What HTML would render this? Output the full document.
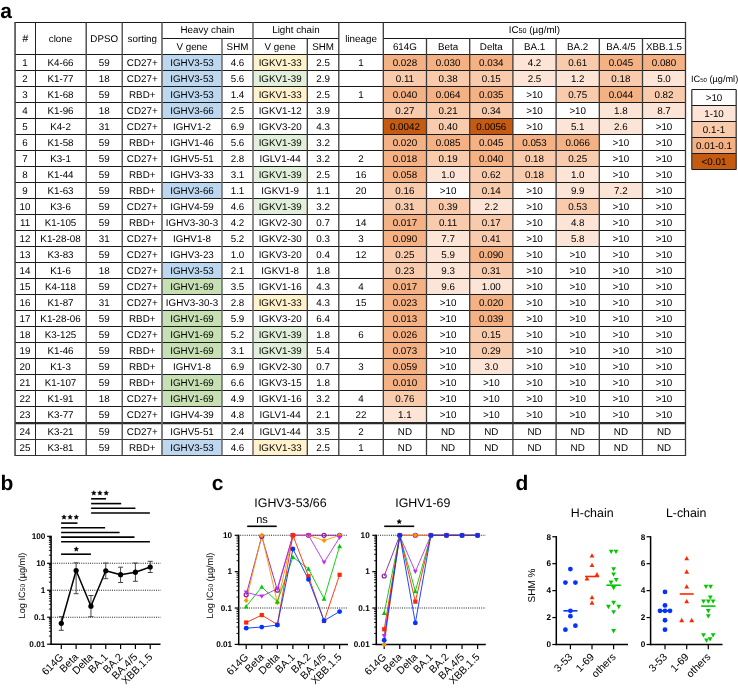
<!DOCTYPE html>
<html><head><meta charset="utf-8"><style>
html,body{margin:0;padding:0;background:#fff;}
svg{display:block;font-family:"Liberation Sans", sans-serif;text-rendering:geometricPrecision;will-change:transform;}
</style></head><body>
<svg width="738" height="689" viewBox="0 0 738 689">
<rect width="738" height="689" fill="#fff"/>
<rect x="162" y="54.5" width="60" height="16.0" fill="#BDD7EE"/>
<rect x="253" y="54.5" width="54.30000000000001" height="16.0" fill="#FFF2CC"/>
<rect x="383.3" y="54.5" width="43.19999999999999" height="16.0" fill="#F4B183"/>
<rect x="426.5" y="54.5" width="43.19999999999999" height="16.0" fill="#F4B183"/>
<rect x="469.7" y="54.5" width="43.19999999999999" height="16.0" fill="#F4B183"/>
<rect x="512.9" y="54.5" width="43.200000000000045" height="16.0" fill="#FCE4D6"/>
<rect x="556.1" y="54.5" width="43.19999999999993" height="16.0" fill="#F8CBAD"/>
<rect x="599.3" y="54.5" width="43.200000000000045" height="16.0" fill="#F4B183"/>
<rect x="642.5" y="54.5" width="43.0" height="16.0" fill="#F4B183"/>
<rect x="162" y="70.5" width="60" height="16.0" fill="#BDD7EE"/>
<rect x="253" y="70.5" width="54.30000000000001" height="16.0" fill="#E2EFDA"/>
<rect x="383.3" y="70.5" width="43.19999999999999" height="16.0" fill="#F8CBAD"/>
<rect x="426.5" y="70.5" width="43.19999999999999" height="16.0" fill="#F8CBAD"/>
<rect x="469.7" y="70.5" width="43.19999999999999" height="16.0" fill="#F8CBAD"/>
<rect x="512.9" y="70.5" width="43.200000000000045" height="16.0" fill="#FCE4D6"/>
<rect x="556.1" y="70.5" width="43.19999999999993" height="16.0" fill="#FCE4D6"/>
<rect x="599.3" y="70.5" width="43.200000000000045" height="16.0" fill="#F8CBAD"/>
<rect x="642.5" y="70.5" width="43.0" height="16.0" fill="#FCE4D6"/>
<rect x="162" y="86.5" width="60" height="16.0" fill="#BDD7EE"/>
<rect x="253" y="86.5" width="54.30000000000001" height="16.0" fill="#FFF2CC"/>
<rect x="383.3" y="86.5" width="43.19999999999999" height="16.0" fill="#F4B183"/>
<rect x="426.5" y="86.5" width="43.19999999999999" height="16.0" fill="#F4B183"/>
<rect x="469.7" y="86.5" width="43.19999999999999" height="16.0" fill="#F4B183"/>
<rect x="556.1" y="86.5" width="43.19999999999993" height="16.0" fill="#F8CBAD"/>
<rect x="599.3" y="86.5" width="43.200000000000045" height="16.0" fill="#F4B183"/>
<rect x="642.5" y="86.5" width="43.0" height="16.0" fill="#F8CBAD"/>
<rect x="162" y="102.5" width="60" height="16.0" fill="#BDD7EE"/>
<rect x="383.3" y="102.5" width="43.19999999999999" height="16.0" fill="#F8CBAD"/>
<rect x="426.5" y="102.5" width="43.19999999999999" height="16.0" fill="#F8CBAD"/>
<rect x="469.7" y="102.5" width="43.19999999999999" height="16.0" fill="#F8CBAD"/>
<rect x="599.3" y="102.5" width="43.200000000000045" height="16.0" fill="#FCE4D6"/>
<rect x="642.5" y="102.5" width="43.0" height="16.0" fill="#FCE4D6"/>
<rect x="383.3" y="118.5" width="43.19999999999999" height="16.0" fill="#C55A11"/>
<rect x="426.5" y="118.5" width="43.19999999999999" height="16.0" fill="#F8CBAD"/>
<rect x="469.7" y="118.5" width="43.19999999999999" height="16.0" fill="#C55A11"/>
<rect x="556.1" y="118.5" width="43.19999999999993" height="16.0" fill="#FCE4D6"/>
<rect x="599.3" y="118.5" width="43.200000000000045" height="16.0" fill="#FCE4D6"/>
<rect x="253" y="134.5" width="54.30000000000001" height="16.0" fill="#E2EFDA"/>
<rect x="383.3" y="134.5" width="43.19999999999999" height="16.0" fill="#F4B183"/>
<rect x="426.5" y="134.5" width="43.19999999999999" height="16.0" fill="#F4B183"/>
<rect x="469.7" y="134.5" width="43.19999999999999" height="16.0" fill="#F4B183"/>
<rect x="512.9" y="134.5" width="43.200000000000045" height="16.0" fill="#F4B183"/>
<rect x="556.1" y="134.5" width="43.19999999999993" height="16.0" fill="#F4B183"/>
<rect x="383.3" y="150.5" width="43.19999999999999" height="16.0" fill="#F4B183"/>
<rect x="426.5" y="150.5" width="43.19999999999999" height="16.0" fill="#F8CBAD"/>
<rect x="469.7" y="150.5" width="43.19999999999999" height="16.0" fill="#F4B183"/>
<rect x="512.9" y="150.5" width="43.200000000000045" height="16.0" fill="#F8CBAD"/>
<rect x="556.1" y="150.5" width="43.19999999999993" height="16.0" fill="#F8CBAD"/>
<rect x="253" y="166.5" width="54.30000000000001" height="16.0" fill="#E2EFDA"/>
<rect x="383.3" y="166.5" width="43.19999999999999" height="16.0" fill="#F4B183"/>
<rect x="426.5" y="166.5" width="43.19999999999999" height="16.0" fill="#FCE4D6"/>
<rect x="469.7" y="166.5" width="43.19999999999999" height="16.0" fill="#F8CBAD"/>
<rect x="512.9" y="166.5" width="43.200000000000045" height="16.0" fill="#F8CBAD"/>
<rect x="556.1" y="166.5" width="43.19999999999993" height="16.0" fill="#FCE4D6"/>
<rect x="162" y="182.5" width="60" height="16.0" fill="#BDD7EE"/>
<rect x="383.3" y="182.5" width="43.19999999999999" height="16.0" fill="#F8CBAD"/>
<rect x="469.7" y="182.5" width="43.19999999999999" height="16.0" fill="#F8CBAD"/>
<rect x="556.1" y="182.5" width="43.19999999999993" height="16.0" fill="#FCE4D6"/>
<rect x="599.3" y="182.5" width="43.200000000000045" height="16.0" fill="#FCE4D6"/>
<rect x="253" y="198.5" width="54.30000000000001" height="16.0" fill="#E2EFDA"/>
<rect x="383.3" y="198.5" width="43.19999999999999" height="16.0" fill="#F8CBAD"/>
<rect x="426.5" y="198.5" width="43.19999999999999" height="16.0" fill="#F8CBAD"/>
<rect x="469.7" y="198.5" width="43.19999999999999" height="16.0" fill="#FCE4D6"/>
<rect x="556.1" y="198.5" width="43.19999999999993" height="16.0" fill="#F8CBAD"/>
<rect x="383.3" y="214.5" width="43.19999999999999" height="16.0" fill="#F4B183"/>
<rect x="426.5" y="214.5" width="43.19999999999999" height="16.0" fill="#F8CBAD"/>
<rect x="469.7" y="214.5" width="43.19999999999999" height="16.0" fill="#F8CBAD"/>
<rect x="556.1" y="214.5" width="43.19999999999993" height="16.0" fill="#FCE4D6"/>
<rect x="383.3" y="230.5" width="43.19999999999999" height="16.0" fill="#F4B183"/>
<rect x="426.5" y="230.5" width="43.19999999999999" height="16.0" fill="#FCE4D6"/>
<rect x="469.7" y="230.5" width="43.19999999999999" height="16.0" fill="#F8CBAD"/>
<rect x="556.1" y="230.5" width="43.19999999999993" height="16.0" fill="#FCE4D6"/>
<rect x="383.3" y="246.5" width="43.19999999999999" height="16.0" fill="#F8CBAD"/>
<rect x="426.5" y="246.5" width="43.19999999999999" height="16.0" fill="#FCE4D6"/>
<rect x="469.7" y="246.5" width="43.19999999999999" height="16.0" fill="#F4B183"/>
<rect x="162" y="262.5" width="60" height="16.0" fill="#BDD7EE"/>
<rect x="383.3" y="262.5" width="43.19999999999999" height="16.0" fill="#F8CBAD"/>
<rect x="426.5" y="262.5" width="43.19999999999999" height="16.0" fill="#FCE4D6"/>
<rect x="469.7" y="262.5" width="43.19999999999999" height="16.0" fill="#F8CBAD"/>
<rect x="162" y="278.5" width="60" height="16.0" fill="#C6E0B4"/>
<rect x="383.3" y="278.5" width="43.19999999999999" height="16.0" fill="#F4B183"/>
<rect x="426.5" y="278.5" width="43.19999999999999" height="16.0" fill="#FCE4D6"/>
<rect x="469.7" y="278.5" width="43.19999999999999" height="16.0" fill="#FCE4D6"/>
<rect x="253" y="294.5" width="54.30000000000001" height="16.0" fill="#FFF2CC"/>
<rect x="383.3" y="294.5" width="43.19999999999999" height="16.0" fill="#F4B183"/>
<rect x="469.7" y="294.5" width="43.19999999999999" height="16.0" fill="#F4B183"/>
<rect x="162" y="310.5" width="60" height="16.0" fill="#C6E0B4"/>
<rect x="383.3" y="310.5" width="43.19999999999999" height="16.0" fill="#F4B183"/>
<rect x="469.7" y="310.5" width="43.19999999999999" height="16.0" fill="#F4B183"/>
<rect x="162" y="326.5" width="60" height="16.0" fill="#C6E0B4"/>
<rect x="253" y="326.5" width="54.30000000000001" height="16.0" fill="#E2EFDA"/>
<rect x="383.3" y="326.5" width="43.19999999999999" height="16.0" fill="#F4B183"/>
<rect x="469.7" y="326.5" width="43.19999999999999" height="16.0" fill="#F8CBAD"/>
<rect x="162" y="342.5" width="60" height="16.0" fill="#C6E0B4"/>
<rect x="253" y="342.5" width="54.30000000000001" height="16.0" fill="#E2EFDA"/>
<rect x="383.3" y="342.5" width="43.19999999999999" height="16.0" fill="#F4B183"/>
<rect x="469.7" y="342.5" width="43.19999999999999" height="16.0" fill="#F8CBAD"/>
<rect x="383.3" y="358.5" width="43.19999999999999" height="16.0" fill="#F4B183"/>
<rect x="469.7" y="358.5" width="43.19999999999999" height="16.0" fill="#FCE4D6"/>
<rect x="162" y="374.5" width="60" height="16.0" fill="#C6E0B4"/>
<rect x="383.3" y="374.5" width="43.19999999999999" height="16.0" fill="#F4B183"/>
<rect x="162" y="390.5" width="60" height="16.0" fill="#C6E0B4"/>
<rect x="383.3" y="390.5" width="43.19999999999999" height="16.0" fill="#F8CBAD"/>
<rect x="383.3" y="406.5" width="43.19999999999999" height="16.0" fill="#FCE4D6"/>
<rect x="162" y="439.5" width="60" height="16.0" fill="#BDD7EE"/>
<rect x="253" y="439.5" width="54.30000000000001" height="16.0" fill="#FFF2CC"/>
<text x="25.00" y="66.10" font-size="9.8" text-anchor="middle" font-weight="normal" fill="#000" >1</text>
<text x="60.50" y="66.10" font-size="9.8" text-anchor="middle" font-weight="normal" fill="#000" >K4-66</text>
<text x="104.25" y="66.10" font-size="9.8" text-anchor="middle" font-weight="normal" fill="#000" >59</text>
<text x="142.25" y="66.10" font-size="9.8" text-anchor="middle" font-weight="normal" fill="#000" >CD27+</text>
<text x="192.00" y="66.10" font-size="9.8" text-anchor="middle" font-weight="normal" fill="#000" >IGHV3-53</text>
<text x="237.50" y="66.10" font-size="9.8" text-anchor="middle" font-weight="normal" fill="#000" >4.6</text>
<text x="280.15" y="66.10" font-size="9.8" text-anchor="middle" font-weight="normal" fill="#000" >IGKV1-33</text>
<text x="323.05" y="66.10" font-size="9.8" text-anchor="middle" font-weight="normal" fill="#000" >2.5</text>
<text x="361.05" y="66.10" font-size="9.8" text-anchor="middle" font-weight="normal" fill="#000" >1</text>
<text x="404.90" y="66.10" font-size="9.8" text-anchor="middle" font-weight="normal" fill="#000" >0.028</text>
<text x="448.10" y="66.10" font-size="9.8" text-anchor="middle" font-weight="normal" fill="#000" >0.030</text>
<text x="491.30" y="66.10" font-size="9.8" text-anchor="middle" font-weight="normal" fill="#000" >0.034</text>
<text x="534.50" y="66.10" font-size="9.8" text-anchor="middle" font-weight="normal" fill="#000" >4.2</text>
<text x="577.70" y="66.10" font-size="9.8" text-anchor="middle" font-weight="normal" fill="#000" >0.61</text>
<text x="620.90" y="66.10" font-size="9.8" text-anchor="middle" font-weight="normal" fill="#000" >0.045</text>
<text x="664.00" y="66.10" font-size="9.8" text-anchor="middle" font-weight="normal" fill="#000" >0.080</text>
<text x="25.00" y="82.10" font-size="9.8" text-anchor="middle" font-weight="normal" fill="#000" >2</text>
<text x="60.50" y="82.10" font-size="9.8" text-anchor="middle" font-weight="normal" fill="#000" >K1-77</text>
<text x="104.25" y="82.10" font-size="9.8" text-anchor="middle" font-weight="normal" fill="#000" >18</text>
<text x="142.25" y="82.10" font-size="9.8" text-anchor="middle" font-weight="normal" fill="#000" >CD27+</text>
<text x="192.00" y="82.10" font-size="9.8" text-anchor="middle" font-weight="normal" fill="#000" >IGHV3-53</text>
<text x="237.50" y="82.10" font-size="9.8" text-anchor="middle" font-weight="normal" fill="#000" >5.6</text>
<text x="280.15" y="82.10" font-size="9.8" text-anchor="middle" font-weight="normal" fill="#000" >IGKV1-39</text>
<text x="323.05" y="82.10" font-size="9.8" text-anchor="middle" font-weight="normal" fill="#000" >2.9</text>
<text x="404.90" y="82.10" font-size="9.8" text-anchor="middle" font-weight="normal" fill="#000" >0.11</text>
<text x="448.10" y="82.10" font-size="9.8" text-anchor="middle" font-weight="normal" fill="#000" >0.38</text>
<text x="491.30" y="82.10" font-size="9.8" text-anchor="middle" font-weight="normal" fill="#000" >0.15</text>
<text x="534.50" y="82.10" font-size="9.8" text-anchor="middle" font-weight="normal" fill="#000" >2.5</text>
<text x="577.70" y="82.10" font-size="9.8" text-anchor="middle" font-weight="normal" fill="#000" >1.2</text>
<text x="620.90" y="82.10" font-size="9.8" text-anchor="middle" font-weight="normal" fill="#000" >0.18</text>
<text x="664.00" y="82.10" font-size="9.8" text-anchor="middle" font-weight="normal" fill="#000" >5.0</text>
<text x="25.00" y="98.10" font-size="9.8" text-anchor="middle" font-weight="normal" fill="#000" >3</text>
<text x="60.50" y="98.10" font-size="9.8" text-anchor="middle" font-weight="normal" fill="#000" >K1-68</text>
<text x="104.25" y="98.10" font-size="9.8" text-anchor="middle" font-weight="normal" fill="#000" >59</text>
<text x="142.25" y="98.10" font-size="9.8" text-anchor="middle" font-weight="normal" fill="#000" >RBD+</text>
<text x="192.00" y="98.10" font-size="9.8" text-anchor="middle" font-weight="normal" fill="#000" >IGHV3-53</text>
<text x="237.50" y="98.10" font-size="9.8" text-anchor="middle" font-weight="normal" fill="#000" >1.4</text>
<text x="280.15" y="98.10" font-size="9.8" text-anchor="middle" font-weight="normal" fill="#000" >IGKV1-33</text>
<text x="323.05" y="98.10" font-size="9.8" text-anchor="middle" font-weight="normal" fill="#000" >2.5</text>
<text x="361.05" y="98.10" font-size="9.8" text-anchor="middle" font-weight="normal" fill="#000" >1</text>
<text x="404.90" y="98.10" font-size="9.8" text-anchor="middle" font-weight="normal" fill="#000" >0.040</text>
<text x="448.10" y="98.10" font-size="9.8" text-anchor="middle" font-weight="normal" fill="#000" >0.064</text>
<text x="491.30" y="98.10" font-size="9.8" text-anchor="middle" font-weight="normal" fill="#000" >0.035</text>
<text x="534.50" y="98.10" font-size="9.8" text-anchor="middle" font-weight="normal" fill="#000" >&gt;10</text>
<text x="577.70" y="98.10" font-size="9.8" text-anchor="middle" font-weight="normal" fill="#000" >0.75</text>
<text x="620.90" y="98.10" font-size="9.8" text-anchor="middle" font-weight="normal" fill="#000" >0.044</text>
<text x="664.00" y="98.10" font-size="9.8" text-anchor="middle" font-weight="normal" fill="#000" >0.82</text>
<text x="25.00" y="114.10" font-size="9.8" text-anchor="middle" font-weight="normal" fill="#000" >4</text>
<text x="60.50" y="114.10" font-size="9.8" text-anchor="middle" font-weight="normal" fill="#000" >K1-96</text>
<text x="104.25" y="114.10" font-size="9.8" text-anchor="middle" font-weight="normal" fill="#000" >18</text>
<text x="142.25" y="114.10" font-size="9.8" text-anchor="middle" font-weight="normal" fill="#000" >CD27+</text>
<text x="192.00" y="114.10" font-size="9.8" text-anchor="middle" font-weight="normal" fill="#000" >IGHV3-66</text>
<text x="237.50" y="114.10" font-size="9.8" text-anchor="middle" font-weight="normal" fill="#000" >2.5</text>
<text x="280.15" y="114.10" font-size="9.8" text-anchor="middle" font-weight="normal" fill="#000" >IGKV1-12</text>
<text x="323.05" y="114.10" font-size="9.8" text-anchor="middle" font-weight="normal" fill="#000" >3.9</text>
<text x="404.90" y="114.10" font-size="9.8" text-anchor="middle" font-weight="normal" fill="#000" >0.27</text>
<text x="448.10" y="114.10" font-size="9.8" text-anchor="middle" font-weight="normal" fill="#000" >0.21</text>
<text x="491.30" y="114.10" font-size="9.8" text-anchor="middle" font-weight="normal" fill="#000" >0.34</text>
<text x="534.50" y="114.10" font-size="9.8" text-anchor="middle" font-weight="normal" fill="#000" >&gt;10</text>
<text x="577.70" y="114.10" font-size="9.8" text-anchor="middle" font-weight="normal" fill="#000" >&gt;10</text>
<text x="620.90" y="114.10" font-size="9.8" text-anchor="middle" font-weight="normal" fill="#000" >1.8</text>
<text x="664.00" y="114.10" font-size="9.8" text-anchor="middle" font-weight="normal" fill="#000" >8.7</text>
<text x="25.00" y="130.10" font-size="9.8" text-anchor="middle" font-weight="normal" fill="#000" >5</text>
<text x="60.50" y="130.10" font-size="9.8" text-anchor="middle" font-weight="normal" fill="#000" >K4-2</text>
<text x="104.25" y="130.10" font-size="9.8" text-anchor="middle" font-weight="normal" fill="#000" >31</text>
<text x="142.25" y="130.10" font-size="9.8" text-anchor="middle" font-weight="normal" fill="#000" >CD27+</text>
<text x="192.00" y="130.10" font-size="9.8" text-anchor="middle" font-weight="normal" fill="#000" >IGHV1-2</text>
<text x="237.50" y="130.10" font-size="9.8" text-anchor="middle" font-weight="normal" fill="#000" >6.9</text>
<text x="280.15" y="130.10" font-size="9.8" text-anchor="middle" font-weight="normal" fill="#000" >IGKV3-20</text>
<text x="323.05" y="130.10" font-size="9.8" text-anchor="middle" font-weight="normal" fill="#000" >4.3</text>
<text x="404.90" y="130.10" font-size="9.8" text-anchor="middle" font-weight="normal" fill="#000" >0.0042</text>
<text x="448.10" y="130.10" font-size="9.8" text-anchor="middle" font-weight="normal" fill="#000" >0.40</text>
<text x="491.30" y="130.10" font-size="9.8" text-anchor="middle" font-weight="normal" fill="#000" >0.0056</text>
<text x="534.50" y="130.10" font-size="9.8" text-anchor="middle" font-weight="normal" fill="#000" >&gt;10</text>
<text x="577.70" y="130.10" font-size="9.8" text-anchor="middle" font-weight="normal" fill="#000" >5.1</text>
<text x="620.90" y="130.10" font-size="9.8" text-anchor="middle" font-weight="normal" fill="#000" >2.6</text>
<text x="664.00" y="130.10" font-size="9.8" text-anchor="middle" font-weight="normal" fill="#000" >&gt;10</text>
<text x="25.00" y="146.10" font-size="9.8" text-anchor="middle" font-weight="normal" fill="#000" >6</text>
<text x="60.50" y="146.10" font-size="9.8" text-anchor="middle" font-weight="normal" fill="#000" >K1-58</text>
<text x="104.25" y="146.10" font-size="9.8" text-anchor="middle" font-weight="normal" fill="#000" >59</text>
<text x="142.25" y="146.10" font-size="9.8" text-anchor="middle" font-weight="normal" fill="#000" >RBD+</text>
<text x="192.00" y="146.10" font-size="9.8" text-anchor="middle" font-weight="normal" fill="#000" >IGHV1-46</text>
<text x="237.50" y="146.10" font-size="9.8" text-anchor="middle" font-weight="normal" fill="#000" >5.6</text>
<text x="280.15" y="146.10" font-size="9.8" text-anchor="middle" font-weight="normal" fill="#000" >IGKV1-39</text>
<text x="323.05" y="146.10" font-size="9.8" text-anchor="middle" font-weight="normal" fill="#000" >3.2</text>
<text x="404.90" y="146.10" font-size="9.8" text-anchor="middle" font-weight="normal" fill="#000" >0.020</text>
<text x="448.10" y="146.10" font-size="9.8" text-anchor="middle" font-weight="normal" fill="#000" >0.085</text>
<text x="491.30" y="146.10" font-size="9.8" text-anchor="middle" font-weight="normal" fill="#000" >0.045</text>
<text x="534.50" y="146.10" font-size="9.8" text-anchor="middle" font-weight="normal" fill="#000" >0.053</text>
<text x="577.70" y="146.10" font-size="9.8" text-anchor="middle" font-weight="normal" fill="#000" >0.066</text>
<text x="620.90" y="146.10" font-size="9.8" text-anchor="middle" font-weight="normal" fill="#000" >&gt;10</text>
<text x="664.00" y="146.10" font-size="9.8" text-anchor="middle" font-weight="normal" fill="#000" >&gt;10</text>
<text x="25.00" y="162.10" font-size="9.8" text-anchor="middle" font-weight="normal" fill="#000" >7</text>
<text x="60.50" y="162.10" font-size="9.8" text-anchor="middle" font-weight="normal" fill="#000" >K3-1</text>
<text x="104.25" y="162.10" font-size="9.8" text-anchor="middle" font-weight="normal" fill="#000" >59</text>
<text x="142.25" y="162.10" font-size="9.8" text-anchor="middle" font-weight="normal" fill="#000" >CD27+</text>
<text x="192.00" y="162.10" font-size="9.8" text-anchor="middle" font-weight="normal" fill="#000" >IGHV5-51</text>
<text x="237.50" y="162.10" font-size="9.8" text-anchor="middle" font-weight="normal" fill="#000" >2.8</text>
<text x="280.15" y="162.10" font-size="9.8" text-anchor="middle" font-weight="normal" fill="#000" >IGLV1-44</text>
<text x="323.05" y="162.10" font-size="9.8" text-anchor="middle" font-weight="normal" fill="#000" >3.2</text>
<text x="361.05" y="162.10" font-size="9.8" text-anchor="middle" font-weight="normal" fill="#000" >2</text>
<text x="404.90" y="162.10" font-size="9.8" text-anchor="middle" font-weight="normal" fill="#000" >0.018</text>
<text x="448.10" y="162.10" font-size="9.8" text-anchor="middle" font-weight="normal" fill="#000" >0.19</text>
<text x="491.30" y="162.10" font-size="9.8" text-anchor="middle" font-weight="normal" fill="#000" >0.040</text>
<text x="534.50" y="162.10" font-size="9.8" text-anchor="middle" font-weight="normal" fill="#000" >0.18</text>
<text x="577.70" y="162.10" font-size="9.8" text-anchor="middle" font-weight="normal" fill="#000" >0.25</text>
<text x="620.90" y="162.10" font-size="9.8" text-anchor="middle" font-weight="normal" fill="#000" >&gt;10</text>
<text x="664.00" y="162.10" font-size="9.8" text-anchor="middle" font-weight="normal" fill="#000" >&gt;10</text>
<text x="25.00" y="178.10" font-size="9.8" text-anchor="middle" font-weight="normal" fill="#000" >8</text>
<text x="60.50" y="178.10" font-size="9.8" text-anchor="middle" font-weight="normal" fill="#000" >K1-44</text>
<text x="104.25" y="178.10" font-size="9.8" text-anchor="middle" font-weight="normal" fill="#000" >59</text>
<text x="142.25" y="178.10" font-size="9.8" text-anchor="middle" font-weight="normal" fill="#000" >RBD+</text>
<text x="192.00" y="178.10" font-size="9.8" text-anchor="middle" font-weight="normal" fill="#000" >IGHV3-33</text>
<text x="237.50" y="178.10" font-size="9.8" text-anchor="middle" font-weight="normal" fill="#000" >3.1</text>
<text x="280.15" y="178.10" font-size="9.8" text-anchor="middle" font-weight="normal" fill="#000" >IGKV1-39</text>
<text x="323.05" y="178.10" font-size="9.8" text-anchor="middle" font-weight="normal" fill="#000" >2.5</text>
<text x="361.05" y="178.10" font-size="9.8" text-anchor="middle" font-weight="normal" fill="#000" >16</text>
<text x="404.90" y="178.10" font-size="9.8" text-anchor="middle" font-weight="normal" fill="#000" >0.058</text>
<text x="448.10" y="178.10" font-size="9.8" text-anchor="middle" font-weight="normal" fill="#000" >1.0</text>
<text x="491.30" y="178.10" font-size="9.8" text-anchor="middle" font-weight="normal" fill="#000" >0.62</text>
<text x="534.50" y="178.10" font-size="9.8" text-anchor="middle" font-weight="normal" fill="#000" >0.18</text>
<text x="577.70" y="178.10" font-size="9.8" text-anchor="middle" font-weight="normal" fill="#000" >1.0</text>
<text x="620.90" y="178.10" font-size="9.8" text-anchor="middle" font-weight="normal" fill="#000" >&gt;10</text>
<text x="664.00" y="178.10" font-size="9.8" text-anchor="middle" font-weight="normal" fill="#000" >&gt;10</text>
<text x="25.00" y="194.10" font-size="9.8" text-anchor="middle" font-weight="normal" fill="#000" >9</text>
<text x="60.50" y="194.10" font-size="9.8" text-anchor="middle" font-weight="normal" fill="#000" >K1-63</text>
<text x="104.25" y="194.10" font-size="9.8" text-anchor="middle" font-weight="normal" fill="#000" >59</text>
<text x="142.25" y="194.10" font-size="9.8" text-anchor="middle" font-weight="normal" fill="#000" >RBD+</text>
<text x="192.00" y="194.10" font-size="9.8" text-anchor="middle" font-weight="normal" fill="#000" >IGHV3-66</text>
<text x="237.50" y="194.10" font-size="9.8" text-anchor="middle" font-weight="normal" fill="#000" >1.1</text>
<text x="280.15" y="194.10" font-size="9.8" text-anchor="middle" font-weight="normal" fill="#000" >IGKV1-9</text>
<text x="323.05" y="194.10" font-size="9.8" text-anchor="middle" font-weight="normal" fill="#000" >1.1</text>
<text x="361.05" y="194.10" font-size="9.8" text-anchor="middle" font-weight="normal" fill="#000" >20</text>
<text x="404.90" y="194.10" font-size="9.8" text-anchor="middle" font-weight="normal" fill="#000" >0.16</text>
<text x="448.10" y="194.10" font-size="9.8" text-anchor="middle" font-weight="normal" fill="#000" >&gt;10</text>
<text x="491.30" y="194.10" font-size="9.8" text-anchor="middle" font-weight="normal" fill="#000" >0.14</text>
<text x="534.50" y="194.10" font-size="9.8" text-anchor="middle" font-weight="normal" fill="#000" >&gt;10</text>
<text x="577.70" y="194.10" font-size="9.8" text-anchor="middle" font-weight="normal" fill="#000" >9.9</text>
<text x="620.90" y="194.10" font-size="9.8" text-anchor="middle" font-weight="normal" fill="#000" >7.2</text>
<text x="664.00" y="194.10" font-size="9.8" text-anchor="middle" font-weight="normal" fill="#000" >&gt;10</text>
<text x="25.00" y="210.10" font-size="9.8" text-anchor="middle" font-weight="normal" fill="#000" >10</text>
<text x="60.50" y="210.10" font-size="9.8" text-anchor="middle" font-weight="normal" fill="#000" >K3-6</text>
<text x="104.25" y="210.10" font-size="9.8" text-anchor="middle" font-weight="normal" fill="#000" >59</text>
<text x="142.25" y="210.10" font-size="9.8" text-anchor="middle" font-weight="normal" fill="#000" >CD27+</text>
<text x="192.00" y="210.10" font-size="9.8" text-anchor="middle" font-weight="normal" fill="#000" >IGHV4-59</text>
<text x="237.50" y="210.10" font-size="9.8" text-anchor="middle" font-weight="normal" fill="#000" >4.6</text>
<text x="280.15" y="210.10" font-size="9.8" text-anchor="middle" font-weight="normal" fill="#000" >IGKV1-39</text>
<text x="323.05" y="210.10" font-size="9.8" text-anchor="middle" font-weight="normal" fill="#000" >3.2</text>
<text x="404.90" y="210.10" font-size="9.8" text-anchor="middle" font-weight="normal" fill="#000" >0.31</text>
<text x="448.10" y="210.10" font-size="9.8" text-anchor="middle" font-weight="normal" fill="#000" >0.39</text>
<text x="491.30" y="210.10" font-size="9.8" text-anchor="middle" font-weight="normal" fill="#000" >2.2</text>
<text x="534.50" y="210.10" font-size="9.8" text-anchor="middle" font-weight="normal" fill="#000" >&gt;10</text>
<text x="577.70" y="210.10" font-size="9.8" text-anchor="middle" font-weight="normal" fill="#000" >0.53</text>
<text x="620.90" y="210.10" font-size="9.8" text-anchor="middle" font-weight="normal" fill="#000" >&gt;10</text>
<text x="664.00" y="210.10" font-size="9.8" text-anchor="middle" font-weight="normal" fill="#000" >&gt;10</text>
<text x="25.00" y="226.10" font-size="9.8" text-anchor="middle" font-weight="normal" fill="#000" >11</text>
<text x="60.50" y="226.10" font-size="9.8" text-anchor="middle" font-weight="normal" fill="#000" >K1-105</text>
<text x="104.25" y="226.10" font-size="9.8" text-anchor="middle" font-weight="normal" fill="#000" >59</text>
<text x="142.25" y="226.10" font-size="9.8" text-anchor="middle" font-weight="normal" fill="#000" >RBD+</text>
<text x="192.00" y="226.10" font-size="9.8" text-anchor="middle" font-weight="normal" fill="#000" >IGHV3-30-3</text>
<text x="237.50" y="226.10" font-size="9.8" text-anchor="middle" font-weight="normal" fill="#000" >4.2</text>
<text x="280.15" y="226.10" font-size="9.8" text-anchor="middle" font-weight="normal" fill="#000" >IGKV2-30</text>
<text x="323.05" y="226.10" font-size="9.8" text-anchor="middle" font-weight="normal" fill="#000" >0.7</text>
<text x="361.05" y="226.10" font-size="9.8" text-anchor="middle" font-weight="normal" fill="#000" >14</text>
<text x="404.90" y="226.10" font-size="9.8" text-anchor="middle" font-weight="normal" fill="#000" >0.017</text>
<text x="448.10" y="226.10" font-size="9.8" text-anchor="middle" font-weight="normal" fill="#000" >0.11</text>
<text x="491.30" y="226.10" font-size="9.8" text-anchor="middle" font-weight="normal" fill="#000" >0.17</text>
<text x="534.50" y="226.10" font-size="9.8" text-anchor="middle" font-weight="normal" fill="#000" >&gt;10</text>
<text x="577.70" y="226.10" font-size="9.8" text-anchor="middle" font-weight="normal" fill="#000" >4.8</text>
<text x="620.90" y="226.10" font-size="9.8" text-anchor="middle" font-weight="normal" fill="#000" >&gt;10</text>
<text x="664.00" y="226.10" font-size="9.8" text-anchor="middle" font-weight="normal" fill="#000" >&gt;10</text>
<text x="25.00" y="242.10" font-size="9.8" text-anchor="middle" font-weight="normal" fill="#000" >12</text>
<text x="60.50" y="242.10" font-size="9.8" text-anchor="middle" font-weight="normal" fill="#000" >K1-28-08</text>
<text x="104.25" y="242.10" font-size="9.8" text-anchor="middle" font-weight="normal" fill="#000" >31</text>
<text x="142.25" y="242.10" font-size="9.8" text-anchor="middle" font-weight="normal" fill="#000" >CD27+</text>
<text x="192.00" y="242.10" font-size="9.8" text-anchor="middle" font-weight="normal" fill="#000" >IGHV1-8</text>
<text x="237.50" y="242.10" font-size="9.8" text-anchor="middle" font-weight="normal" fill="#000" >5.2</text>
<text x="280.15" y="242.10" font-size="9.8" text-anchor="middle" font-weight="normal" fill="#000" >IGKV2-30</text>
<text x="323.05" y="242.10" font-size="9.8" text-anchor="middle" font-weight="normal" fill="#000" >0.3</text>
<text x="361.05" y="242.10" font-size="9.8" text-anchor="middle" font-weight="normal" fill="#000" >3</text>
<text x="404.90" y="242.10" font-size="9.8" text-anchor="middle" font-weight="normal" fill="#000" >0.090</text>
<text x="448.10" y="242.10" font-size="9.8" text-anchor="middle" font-weight="normal" fill="#000" >7.7</text>
<text x="491.30" y="242.10" font-size="9.8" text-anchor="middle" font-weight="normal" fill="#000" >0.41</text>
<text x="534.50" y="242.10" font-size="9.8" text-anchor="middle" font-weight="normal" fill="#000" >&gt;10</text>
<text x="577.70" y="242.10" font-size="9.8" text-anchor="middle" font-weight="normal" fill="#000" >5.8</text>
<text x="620.90" y="242.10" font-size="9.8" text-anchor="middle" font-weight="normal" fill="#000" >&gt;10</text>
<text x="664.00" y="242.10" font-size="9.8" text-anchor="middle" font-weight="normal" fill="#000" >&gt;10</text>
<text x="25.00" y="258.10" font-size="9.8" text-anchor="middle" font-weight="normal" fill="#000" >13</text>
<text x="60.50" y="258.10" font-size="9.8" text-anchor="middle" font-weight="normal" fill="#000" >K3-83</text>
<text x="104.25" y="258.10" font-size="9.8" text-anchor="middle" font-weight="normal" fill="#000" >59</text>
<text x="142.25" y="258.10" font-size="9.8" text-anchor="middle" font-weight="normal" fill="#000" >CD27+</text>
<text x="192.00" y="258.10" font-size="9.8" text-anchor="middle" font-weight="normal" fill="#000" >IGHV3-23</text>
<text x="237.50" y="258.10" font-size="9.8" text-anchor="middle" font-weight="normal" fill="#000" >1.0</text>
<text x="280.15" y="258.10" font-size="9.8" text-anchor="middle" font-weight="normal" fill="#000" >IGKV3-20</text>
<text x="323.05" y="258.10" font-size="9.8" text-anchor="middle" font-weight="normal" fill="#000" >0.4</text>
<text x="361.05" y="258.10" font-size="9.8" text-anchor="middle" font-weight="normal" fill="#000" >12</text>
<text x="404.90" y="258.10" font-size="9.8" text-anchor="middle" font-weight="normal" fill="#000" >0.25</text>
<text x="448.10" y="258.10" font-size="9.8" text-anchor="middle" font-weight="normal" fill="#000" >5.9</text>
<text x="491.30" y="258.10" font-size="9.8" text-anchor="middle" font-weight="normal" fill="#000" >0.090</text>
<text x="534.50" y="258.10" font-size="9.8" text-anchor="middle" font-weight="normal" fill="#000" >&gt;10</text>
<text x="577.70" y="258.10" font-size="9.8" text-anchor="middle" font-weight="normal" fill="#000" >&gt;10</text>
<text x="620.90" y="258.10" font-size="9.8" text-anchor="middle" font-weight="normal" fill="#000" >&gt;10</text>
<text x="664.00" y="258.10" font-size="9.8" text-anchor="middle" font-weight="normal" fill="#000" >&gt;10</text>
<text x="25.00" y="274.10" font-size="9.8" text-anchor="middle" font-weight="normal" fill="#000" >14</text>
<text x="60.50" y="274.10" font-size="9.8" text-anchor="middle" font-weight="normal" fill="#000" >K1-6</text>
<text x="104.25" y="274.10" font-size="9.8" text-anchor="middle" font-weight="normal" fill="#000" >18</text>
<text x="142.25" y="274.10" font-size="9.8" text-anchor="middle" font-weight="normal" fill="#000" >CD27+</text>
<text x="192.00" y="274.10" font-size="9.8" text-anchor="middle" font-weight="normal" fill="#000" >IGHV3-53</text>
<text x="237.50" y="274.10" font-size="9.8" text-anchor="middle" font-weight="normal" fill="#000" >2.1</text>
<text x="280.15" y="274.10" font-size="9.8" text-anchor="middle" font-weight="normal" fill="#000" >IGKV1-8</text>
<text x="323.05" y="274.10" font-size="9.8" text-anchor="middle" font-weight="normal" fill="#000" >1.8</text>
<text x="404.90" y="274.10" font-size="9.8" text-anchor="middle" font-weight="normal" fill="#000" >0.23</text>
<text x="448.10" y="274.10" font-size="9.8" text-anchor="middle" font-weight="normal" fill="#000" >9.3</text>
<text x="491.30" y="274.10" font-size="9.8" text-anchor="middle" font-weight="normal" fill="#000" >0.31</text>
<text x="534.50" y="274.10" font-size="9.8" text-anchor="middle" font-weight="normal" fill="#000" >&gt;10</text>
<text x="577.70" y="274.10" font-size="9.8" text-anchor="middle" font-weight="normal" fill="#000" >&gt;10</text>
<text x="620.90" y="274.10" font-size="9.8" text-anchor="middle" font-weight="normal" fill="#000" >&gt;10</text>
<text x="664.00" y="274.10" font-size="9.8" text-anchor="middle" font-weight="normal" fill="#000" >&gt;10</text>
<text x="25.00" y="290.10" font-size="9.8" text-anchor="middle" font-weight="normal" fill="#000" >15</text>
<text x="60.50" y="290.10" font-size="9.8" text-anchor="middle" font-weight="normal" fill="#000" >K4-118</text>
<text x="104.25" y="290.10" font-size="9.8" text-anchor="middle" font-weight="normal" fill="#000" >59</text>
<text x="142.25" y="290.10" font-size="9.8" text-anchor="middle" font-weight="normal" fill="#000" >CD27+</text>
<text x="192.00" y="290.10" font-size="9.8" text-anchor="middle" font-weight="normal" fill="#000" >IGHV1-69</text>
<text x="237.50" y="290.10" font-size="9.8" text-anchor="middle" font-weight="normal" fill="#000" >3.5</text>
<text x="280.15" y="290.10" font-size="9.8" text-anchor="middle" font-weight="normal" fill="#000" >IGKV1-16</text>
<text x="323.05" y="290.10" font-size="9.8" text-anchor="middle" font-weight="normal" fill="#000" >4.3</text>
<text x="361.05" y="290.10" font-size="9.8" text-anchor="middle" font-weight="normal" fill="#000" >4</text>
<text x="404.90" y="290.10" font-size="9.8" text-anchor="middle" font-weight="normal" fill="#000" >0.017</text>
<text x="448.10" y="290.10" font-size="9.8" text-anchor="middle" font-weight="normal" fill="#000" >9.6</text>
<text x="491.30" y="290.10" font-size="9.8" text-anchor="middle" font-weight="normal" fill="#000" >1.00</text>
<text x="534.50" y="290.10" font-size="9.8" text-anchor="middle" font-weight="normal" fill="#000" >&gt;10</text>
<text x="577.70" y="290.10" font-size="9.8" text-anchor="middle" font-weight="normal" fill="#000" >&gt;10</text>
<text x="620.90" y="290.10" font-size="9.8" text-anchor="middle" font-weight="normal" fill="#000" >&gt;10</text>
<text x="664.00" y="290.10" font-size="9.8" text-anchor="middle" font-weight="normal" fill="#000" >&gt;10</text>
<text x="25.00" y="306.10" font-size="9.8" text-anchor="middle" font-weight="normal" fill="#000" >16</text>
<text x="60.50" y="306.10" font-size="9.8" text-anchor="middle" font-weight="normal" fill="#000" >K1-87</text>
<text x="104.25" y="306.10" font-size="9.8" text-anchor="middle" font-weight="normal" fill="#000" >31</text>
<text x="142.25" y="306.10" font-size="9.8" text-anchor="middle" font-weight="normal" fill="#000" >CD27+</text>
<text x="192.00" y="306.10" font-size="9.8" text-anchor="middle" font-weight="normal" fill="#000" >IGHV3-30-3</text>
<text x="237.50" y="306.10" font-size="9.8" text-anchor="middle" font-weight="normal" fill="#000" >2.8</text>
<text x="280.15" y="306.10" font-size="9.8" text-anchor="middle" font-weight="normal" fill="#000" >IGKV1-33</text>
<text x="323.05" y="306.10" font-size="9.8" text-anchor="middle" font-weight="normal" fill="#000" >4.3</text>
<text x="361.05" y="306.10" font-size="9.8" text-anchor="middle" font-weight="normal" fill="#000" >15</text>
<text x="404.90" y="306.10" font-size="9.8" text-anchor="middle" font-weight="normal" fill="#000" >0.023</text>
<text x="448.10" y="306.10" font-size="9.8" text-anchor="middle" font-weight="normal" fill="#000" >&gt;10</text>
<text x="491.30" y="306.10" font-size="9.8" text-anchor="middle" font-weight="normal" fill="#000" >0.020</text>
<text x="534.50" y="306.10" font-size="9.8" text-anchor="middle" font-weight="normal" fill="#000" >&gt;10</text>
<text x="577.70" y="306.10" font-size="9.8" text-anchor="middle" font-weight="normal" fill="#000" >&gt;10</text>
<text x="620.90" y="306.10" font-size="9.8" text-anchor="middle" font-weight="normal" fill="#000" >&gt;10</text>
<text x="664.00" y="306.10" font-size="9.8" text-anchor="middle" font-weight="normal" fill="#000" >&gt;10</text>
<text x="25.00" y="322.10" font-size="9.8" text-anchor="middle" font-weight="normal" fill="#000" >17</text>
<text x="60.50" y="322.10" font-size="9.8" text-anchor="middle" font-weight="normal" fill="#000" >K1-28-06</text>
<text x="104.25" y="322.10" font-size="9.8" text-anchor="middle" font-weight="normal" fill="#000" >59</text>
<text x="142.25" y="322.10" font-size="9.8" text-anchor="middle" font-weight="normal" fill="#000" >RBD+</text>
<text x="192.00" y="322.10" font-size="9.8" text-anchor="middle" font-weight="normal" fill="#000" >IGHV1-69</text>
<text x="237.50" y="322.10" font-size="9.8" text-anchor="middle" font-weight="normal" fill="#000" >5.9</text>
<text x="280.15" y="322.10" font-size="9.8" text-anchor="middle" font-weight="normal" fill="#000" >IGKV3-20</text>
<text x="323.05" y="322.10" font-size="9.8" text-anchor="middle" font-weight="normal" fill="#000" >6.4</text>
<text x="404.90" y="322.10" font-size="9.8" text-anchor="middle" font-weight="normal" fill="#000" >0.013</text>
<text x="448.10" y="322.10" font-size="9.8" text-anchor="middle" font-weight="normal" fill="#000" >&gt;10</text>
<text x="491.30" y="322.10" font-size="9.8" text-anchor="middle" font-weight="normal" fill="#000" >0.039</text>
<text x="534.50" y="322.10" font-size="9.8" text-anchor="middle" font-weight="normal" fill="#000" >&gt;10</text>
<text x="577.70" y="322.10" font-size="9.8" text-anchor="middle" font-weight="normal" fill="#000" >&gt;10</text>
<text x="620.90" y="322.10" font-size="9.8" text-anchor="middle" font-weight="normal" fill="#000" >&gt;10</text>
<text x="664.00" y="322.10" font-size="9.8" text-anchor="middle" font-weight="normal" fill="#000" >&gt;10</text>
<text x="25.00" y="338.10" font-size="9.8" text-anchor="middle" font-weight="normal" fill="#000" >18</text>
<text x="60.50" y="338.10" font-size="9.8" text-anchor="middle" font-weight="normal" fill="#000" >K3-125</text>
<text x="104.25" y="338.10" font-size="9.8" text-anchor="middle" font-weight="normal" fill="#000" >59</text>
<text x="142.25" y="338.10" font-size="9.8" text-anchor="middle" font-weight="normal" fill="#000" >CD27+</text>
<text x="192.00" y="338.10" font-size="9.8" text-anchor="middle" font-weight="normal" fill="#000" >IGHV1-69</text>
<text x="237.50" y="338.10" font-size="9.8" text-anchor="middle" font-weight="normal" fill="#000" >5.2</text>
<text x="280.15" y="338.10" font-size="9.8" text-anchor="middle" font-weight="normal" fill="#000" >IGKV1-39</text>
<text x="323.05" y="338.10" font-size="9.8" text-anchor="middle" font-weight="normal" fill="#000" >1.8</text>
<text x="361.05" y="338.10" font-size="9.8" text-anchor="middle" font-weight="normal" fill="#000" >6</text>
<text x="404.90" y="338.10" font-size="9.8" text-anchor="middle" font-weight="normal" fill="#000" >0.026</text>
<text x="448.10" y="338.10" font-size="9.8" text-anchor="middle" font-weight="normal" fill="#000" >&gt;10</text>
<text x="491.30" y="338.10" font-size="9.8" text-anchor="middle" font-weight="normal" fill="#000" >0.15</text>
<text x="534.50" y="338.10" font-size="9.8" text-anchor="middle" font-weight="normal" fill="#000" >&gt;10</text>
<text x="577.70" y="338.10" font-size="9.8" text-anchor="middle" font-weight="normal" fill="#000" >&gt;10</text>
<text x="620.90" y="338.10" font-size="9.8" text-anchor="middle" font-weight="normal" fill="#000" >&gt;10</text>
<text x="664.00" y="338.10" font-size="9.8" text-anchor="middle" font-weight="normal" fill="#000" >&gt;10</text>
<text x="25.00" y="354.10" font-size="9.8" text-anchor="middle" font-weight="normal" fill="#000" >19</text>
<text x="60.50" y="354.10" font-size="9.8" text-anchor="middle" font-weight="normal" fill="#000" >K1-46</text>
<text x="104.25" y="354.10" font-size="9.8" text-anchor="middle" font-weight="normal" fill="#000" >59</text>
<text x="142.25" y="354.10" font-size="9.8" text-anchor="middle" font-weight="normal" fill="#000" >RBD+</text>
<text x="192.00" y="354.10" font-size="9.8" text-anchor="middle" font-weight="normal" fill="#000" >IGHV1-69</text>
<text x="237.50" y="354.10" font-size="9.8" text-anchor="middle" font-weight="normal" fill="#000" >3.1</text>
<text x="280.15" y="354.10" font-size="9.8" text-anchor="middle" font-weight="normal" fill="#000" >IGKV1-39</text>
<text x="323.05" y="354.10" font-size="9.8" text-anchor="middle" font-weight="normal" fill="#000" >5.4</text>
<text x="404.90" y="354.10" font-size="9.8" text-anchor="middle" font-weight="normal" fill="#000" >0.073</text>
<text x="448.10" y="354.10" font-size="9.8" text-anchor="middle" font-weight="normal" fill="#000" >&gt;10</text>
<text x="491.30" y="354.10" font-size="9.8" text-anchor="middle" font-weight="normal" fill="#000" >0.29</text>
<text x="534.50" y="354.10" font-size="9.8" text-anchor="middle" font-weight="normal" fill="#000" >&gt;10</text>
<text x="577.70" y="354.10" font-size="9.8" text-anchor="middle" font-weight="normal" fill="#000" >&gt;10</text>
<text x="620.90" y="354.10" font-size="9.8" text-anchor="middle" font-weight="normal" fill="#000" >&gt;10</text>
<text x="664.00" y="354.10" font-size="9.8" text-anchor="middle" font-weight="normal" fill="#000" >&gt;10</text>
<text x="25.00" y="370.10" font-size="9.8" text-anchor="middle" font-weight="normal" fill="#000" >20</text>
<text x="60.50" y="370.10" font-size="9.8" text-anchor="middle" font-weight="normal" fill="#000" >K1-3</text>
<text x="104.25" y="370.10" font-size="9.8" text-anchor="middle" font-weight="normal" fill="#000" >59</text>
<text x="142.25" y="370.10" font-size="9.8" text-anchor="middle" font-weight="normal" fill="#000" >RBD+</text>
<text x="192.00" y="370.10" font-size="9.8" text-anchor="middle" font-weight="normal" fill="#000" >IGHV1-8</text>
<text x="237.50" y="370.10" font-size="9.8" text-anchor="middle" font-weight="normal" fill="#000" >6.9</text>
<text x="280.15" y="370.10" font-size="9.8" text-anchor="middle" font-weight="normal" fill="#000" >IGKV2-30</text>
<text x="323.05" y="370.10" font-size="9.8" text-anchor="middle" font-weight="normal" fill="#000" >0.7</text>
<text x="361.05" y="370.10" font-size="9.8" text-anchor="middle" font-weight="normal" fill="#000" >3</text>
<text x="404.90" y="370.10" font-size="9.8" text-anchor="middle" font-weight="normal" fill="#000" >0.059</text>
<text x="448.10" y="370.10" font-size="9.8" text-anchor="middle" font-weight="normal" fill="#000" >&gt;10</text>
<text x="491.30" y="370.10" font-size="9.8" text-anchor="middle" font-weight="normal" fill="#000" >3.0</text>
<text x="534.50" y="370.10" font-size="9.8" text-anchor="middle" font-weight="normal" fill="#000" >&gt;10</text>
<text x="577.70" y="370.10" font-size="9.8" text-anchor="middle" font-weight="normal" fill="#000" >&gt;10</text>
<text x="620.90" y="370.10" font-size="9.8" text-anchor="middle" font-weight="normal" fill="#000" >&gt;10</text>
<text x="664.00" y="370.10" font-size="9.8" text-anchor="middle" font-weight="normal" fill="#000" >&gt;10</text>
<text x="25.00" y="386.10" font-size="9.8" text-anchor="middle" font-weight="normal" fill="#000" >21</text>
<text x="60.50" y="386.10" font-size="9.8" text-anchor="middle" font-weight="normal" fill="#000" >K1-107</text>
<text x="104.25" y="386.10" font-size="9.8" text-anchor="middle" font-weight="normal" fill="#000" >59</text>
<text x="142.25" y="386.10" font-size="9.8" text-anchor="middle" font-weight="normal" fill="#000" >RBD+</text>
<text x="192.00" y="386.10" font-size="9.8" text-anchor="middle" font-weight="normal" fill="#000" >IGHV1-69</text>
<text x="237.50" y="386.10" font-size="9.8" text-anchor="middle" font-weight="normal" fill="#000" >6.6</text>
<text x="280.15" y="386.10" font-size="9.8" text-anchor="middle" font-weight="normal" fill="#000" >IGKV3-15</text>
<text x="323.05" y="386.10" font-size="9.8" text-anchor="middle" font-weight="normal" fill="#000" >1.8</text>
<text x="404.90" y="386.10" font-size="9.8" text-anchor="middle" font-weight="normal" fill="#000" >0.010</text>
<text x="448.10" y="386.10" font-size="9.8" text-anchor="middle" font-weight="normal" fill="#000" >&gt;10</text>
<text x="491.30" y="386.10" font-size="9.8" text-anchor="middle" font-weight="normal" fill="#000" >&gt;10</text>
<text x="534.50" y="386.10" font-size="9.8" text-anchor="middle" font-weight="normal" fill="#000" >&gt;10</text>
<text x="577.70" y="386.10" font-size="9.8" text-anchor="middle" font-weight="normal" fill="#000" >&gt;10</text>
<text x="620.90" y="386.10" font-size="9.8" text-anchor="middle" font-weight="normal" fill="#000" >&gt;10</text>
<text x="664.00" y="386.10" font-size="9.8" text-anchor="middle" font-weight="normal" fill="#000" >&gt;10</text>
<text x="25.00" y="402.10" font-size="9.8" text-anchor="middle" font-weight="normal" fill="#000" >22</text>
<text x="60.50" y="402.10" font-size="9.8" text-anchor="middle" font-weight="normal" fill="#000" >K1-91</text>
<text x="104.25" y="402.10" font-size="9.8" text-anchor="middle" font-weight="normal" fill="#000" >18</text>
<text x="142.25" y="402.10" font-size="9.8" text-anchor="middle" font-weight="normal" fill="#000" >CD27+</text>
<text x="192.00" y="402.10" font-size="9.8" text-anchor="middle" font-weight="normal" fill="#000" >IGHV1-69</text>
<text x="237.50" y="402.10" font-size="9.8" text-anchor="middle" font-weight="normal" fill="#000" >4.9</text>
<text x="280.15" y="402.10" font-size="9.8" text-anchor="middle" font-weight="normal" fill="#000" >IGKV1-16</text>
<text x="323.05" y="402.10" font-size="9.8" text-anchor="middle" font-weight="normal" fill="#000" >3.2</text>
<text x="361.05" y="402.10" font-size="9.8" text-anchor="middle" font-weight="normal" fill="#000" >4</text>
<text x="404.90" y="402.10" font-size="9.8" text-anchor="middle" font-weight="normal" fill="#000" >0.76</text>
<text x="448.10" y="402.10" font-size="9.8" text-anchor="middle" font-weight="normal" fill="#000" >&gt;10</text>
<text x="491.30" y="402.10" font-size="9.8" text-anchor="middle" font-weight="normal" fill="#000" >&gt;10</text>
<text x="534.50" y="402.10" font-size="9.8" text-anchor="middle" font-weight="normal" fill="#000" >&gt;10</text>
<text x="577.70" y="402.10" font-size="9.8" text-anchor="middle" font-weight="normal" fill="#000" >&gt;10</text>
<text x="620.90" y="402.10" font-size="9.8" text-anchor="middle" font-weight="normal" fill="#000" >&gt;10</text>
<text x="664.00" y="402.10" font-size="9.8" text-anchor="middle" font-weight="normal" fill="#000" >&gt;10</text>
<text x="25.00" y="418.10" font-size="9.8" text-anchor="middle" font-weight="normal" fill="#000" >23</text>
<text x="60.50" y="418.10" font-size="9.8" text-anchor="middle" font-weight="normal" fill="#000" >K3-77</text>
<text x="104.25" y="418.10" font-size="9.8" text-anchor="middle" font-weight="normal" fill="#000" >59</text>
<text x="142.25" y="418.10" font-size="9.8" text-anchor="middle" font-weight="normal" fill="#000" >CD27+</text>
<text x="192.00" y="418.10" font-size="9.8" text-anchor="middle" font-weight="normal" fill="#000" >IGHV4-39</text>
<text x="237.50" y="418.10" font-size="9.8" text-anchor="middle" font-weight="normal" fill="#000" >4.8</text>
<text x="280.15" y="418.10" font-size="9.8" text-anchor="middle" font-weight="normal" fill="#000" >IGLV1-44</text>
<text x="323.05" y="418.10" font-size="9.8" text-anchor="middle" font-weight="normal" fill="#000" >2.1</text>
<text x="361.05" y="418.10" font-size="9.8" text-anchor="middle" font-weight="normal" fill="#000" >22</text>
<text x="404.90" y="418.10" font-size="9.8" text-anchor="middle" font-weight="normal" fill="#000" >1.1</text>
<text x="448.10" y="418.10" font-size="9.8" text-anchor="middle" font-weight="normal" fill="#000" >&gt;10</text>
<text x="491.30" y="418.10" font-size="9.8" text-anchor="middle" font-weight="normal" fill="#000" >&gt;10</text>
<text x="534.50" y="418.10" font-size="9.8" text-anchor="middle" font-weight="normal" fill="#000" >&gt;10</text>
<text x="577.70" y="418.10" font-size="9.8" text-anchor="middle" font-weight="normal" fill="#000" >&gt;10</text>
<text x="620.90" y="418.10" font-size="9.8" text-anchor="middle" font-weight="normal" fill="#000" >&gt;10</text>
<text x="664.00" y="418.10" font-size="9.8" text-anchor="middle" font-weight="normal" fill="#000" >&gt;10</text>
<text x="25.00" y="435.10" font-size="9.8" text-anchor="middle" font-weight="normal" fill="#000" >24</text>
<text x="60.50" y="435.10" font-size="9.8" text-anchor="middle" font-weight="normal" fill="#000" >K3-21</text>
<text x="104.25" y="435.10" font-size="9.8" text-anchor="middle" font-weight="normal" fill="#000" >59</text>
<text x="142.25" y="435.10" font-size="9.8" text-anchor="middle" font-weight="normal" fill="#000" >CD27+</text>
<text x="192.00" y="435.10" font-size="9.8" text-anchor="middle" font-weight="normal" fill="#000" >IGHV5-51</text>
<text x="237.50" y="435.10" font-size="9.8" text-anchor="middle" font-weight="normal" fill="#000" >2.4</text>
<text x="280.15" y="435.10" font-size="9.8" text-anchor="middle" font-weight="normal" fill="#000" >IGLV1-44</text>
<text x="323.05" y="435.10" font-size="9.8" text-anchor="middle" font-weight="normal" fill="#000" >3.5</text>
<text x="361.05" y="435.10" font-size="9.8" text-anchor="middle" font-weight="normal" fill="#000" >2</text>
<text x="404.90" y="435.10" font-size="9.8" text-anchor="middle" font-weight="normal" fill="#000" >ND</text>
<text x="448.10" y="435.10" font-size="9.8" text-anchor="middle" font-weight="normal" fill="#000" >ND</text>
<text x="491.30" y="435.10" font-size="9.8" text-anchor="middle" font-weight="normal" fill="#000" >ND</text>
<text x="534.50" y="435.10" font-size="9.8" text-anchor="middle" font-weight="normal" fill="#000" >ND</text>
<text x="577.70" y="435.10" font-size="9.8" text-anchor="middle" font-weight="normal" fill="#000" >ND</text>
<text x="620.90" y="435.10" font-size="9.8" text-anchor="middle" font-weight="normal" fill="#000" >ND</text>
<text x="664.00" y="435.10" font-size="9.8" text-anchor="middle" font-weight="normal" fill="#000" >ND</text>
<text x="25.00" y="451.10" font-size="9.8" text-anchor="middle" font-weight="normal" fill="#000" >25</text>
<text x="60.50" y="451.10" font-size="9.8" text-anchor="middle" font-weight="normal" fill="#000" >K3-81</text>
<text x="104.25" y="451.10" font-size="9.8" text-anchor="middle" font-weight="normal" fill="#000" >59</text>
<text x="142.25" y="451.10" font-size="9.8" text-anchor="middle" font-weight="normal" fill="#000" >RBD+</text>
<text x="192.00" y="451.10" font-size="9.8" text-anchor="middle" font-weight="normal" fill="#000" >IGHV3-53</text>
<text x="237.50" y="451.10" font-size="9.8" text-anchor="middle" font-weight="normal" fill="#000" >4.6</text>
<text x="280.15" y="451.10" font-size="9.8" text-anchor="middle" font-weight="normal" fill="#000" >IGKV1-33</text>
<text x="323.05" y="451.10" font-size="9.8" text-anchor="middle" font-weight="normal" fill="#000" >2.5</text>
<text x="361.05" y="451.10" font-size="9.8" text-anchor="middle" font-weight="normal" fill="#000" >1</text>
<text x="404.90" y="451.10" font-size="9.8" text-anchor="middle" font-weight="normal" fill="#000" >ND</text>
<text x="448.10" y="451.10" font-size="9.8" text-anchor="middle" font-weight="normal" fill="#000" >ND</text>
<text x="491.30" y="451.10" font-size="9.8" text-anchor="middle" font-weight="normal" fill="#000" >ND</text>
<text x="534.50" y="451.10" font-size="9.8" text-anchor="middle" font-weight="normal" fill="#000" >ND</text>
<text x="577.70" y="451.10" font-size="9.8" text-anchor="middle" font-weight="normal" fill="#000" >ND</text>
<text x="620.90" y="451.10" font-size="9.8" text-anchor="middle" font-weight="normal" fill="#000" >ND</text>
<text x="664.00" y="451.10" font-size="9.8" text-anchor="middle" font-weight="normal" fill="#000" >ND</text>
<text x="60.50" y="41.80" font-size="9.8" text-anchor="middle" font-weight="normal" fill="#000" >clone</text>
<text x="104.25" y="41.80" font-size="9.8" text-anchor="middle" font-weight="normal" fill="#000" >DPSO</text>
<text x="142.25" y="41.80" font-size="9.8" text-anchor="middle" font-weight="normal" fill="#000" >sorting</text>
<text x="361.05" y="41.80" font-size="9.8" text-anchor="middle" font-weight="normal" fill="#000" >lineage</text>
<text x="25.20" y="41.9" font-size="10.6" font-style="italic" text-anchor="middle">#</text>
<text x="207.50" y="33.20" font-size="9.8" text-anchor="middle" font-weight="normal" fill="#000" >Heavy chain</text>
<text x="295.90" y="33.20" font-size="9.8" text-anchor="middle" font-weight="normal" fill="#000" >Light chain</text>
<text x="192.00" y="49.80" font-size="9.8" text-anchor="middle" font-weight="normal" fill="#000" >V gene</text>
<text x="237.50" y="49.80" font-size="9.8" text-anchor="middle" font-weight="normal" fill="#000" >SHM</text>
<text x="280.15" y="49.80" font-size="9.8" text-anchor="middle" font-weight="normal" fill="#000" >V gene</text>
<text x="323.05" y="49.80" font-size="9.8" text-anchor="middle" font-weight="normal" fill="#000" >SHM</text>
<text x="404.90" y="49.80" font-size="9.8" text-anchor="middle" font-weight="normal" fill="#000" >614G</text>
<text x="448.10" y="49.80" font-size="9.8" text-anchor="middle" font-weight="normal" fill="#000" >Beta</text>
<text x="491.30" y="49.80" font-size="9.8" text-anchor="middle" font-weight="normal" fill="#000" >Delta</text>
<text x="534.50" y="49.80" font-size="9.8" text-anchor="middle" font-weight="normal" fill="#000" >BA.1</text>
<text x="577.70" y="49.80" font-size="9.8" text-anchor="middle" font-weight="normal" fill="#000" >BA.2</text>
<text x="620.90" y="49.80" font-size="9.8" text-anchor="middle" font-weight="normal" fill="#000" >BA.4/5</text>
<text x="664.00" y="49.80" font-size="9.8" text-anchor="middle" font-weight="normal" fill="#000" >XBB.1.5</text>
<text x="534.40" y="33.2" font-size="9.8" text-anchor="middle" >IC<tspan font-size="7.2">50</tspan> (µg/ml)</text>
<line x1="14.4" y1="22.5" x2="686.1" y2="22.5" stroke="#1a1a1a" stroke-width="1"/>
<line x1="162" y1="38.5" x2="338.8" y2="38.5" stroke="#1a1a1a" stroke-width="1"/>
<line x1="383.3" y1="38.5" x2="685.5" y2="38.5" stroke="#1a1a1a" stroke-width="1"/>
<line x1="15" y1="54.5" x2="685.5" y2="54.5" stroke="#1a1a1a" stroke-width="1"/>
<line x1="15" y1="70.5" x2="685.5" y2="70.5" stroke="#1a1a1a" stroke-width="1"/>
<line x1="15" y1="86.5" x2="685.5" y2="86.5" stroke="#1a1a1a" stroke-width="1"/>
<line x1="15" y1="102.5" x2="685.5" y2="102.5" stroke="#1a1a1a" stroke-width="1"/>
<line x1="15" y1="118.5" x2="685.5" y2="118.5" stroke="#1a1a1a" stroke-width="1"/>
<line x1="15" y1="134.5" x2="685.5" y2="134.5" stroke="#1a1a1a" stroke-width="1"/>
<line x1="15" y1="150.5" x2="685.5" y2="150.5" stroke="#1a1a1a" stroke-width="1"/>
<line x1="15" y1="166.5" x2="685.5" y2="166.5" stroke="#1a1a1a" stroke-width="1"/>
<line x1="15" y1="182.5" x2="685.5" y2="182.5" stroke="#1a1a1a" stroke-width="1"/>
<line x1="15" y1="198.5" x2="685.5" y2="198.5" stroke="#1a1a1a" stroke-width="1"/>
<line x1="15" y1="214.5" x2="685.5" y2="214.5" stroke="#1a1a1a" stroke-width="1"/>
<line x1="15" y1="230.5" x2="685.5" y2="230.5" stroke="#1a1a1a" stroke-width="1"/>
<line x1="15" y1="246.5" x2="685.5" y2="246.5" stroke="#1a1a1a" stroke-width="1"/>
<line x1="15" y1="262.5" x2="685.5" y2="262.5" stroke="#1a1a1a" stroke-width="1"/>
<line x1="15" y1="278.5" x2="685.5" y2="278.5" stroke="#1a1a1a" stroke-width="1"/>
<line x1="15" y1="294.5" x2="685.5" y2="294.5" stroke="#1a1a1a" stroke-width="1"/>
<line x1="15" y1="310.5" x2="685.5" y2="310.5" stroke="#1a1a1a" stroke-width="1"/>
<line x1="15" y1="326.5" x2="685.5" y2="326.5" stroke="#1a1a1a" stroke-width="1"/>
<line x1="15" y1="342.5" x2="685.5" y2="342.5" stroke="#1a1a1a" stroke-width="1"/>
<line x1="15" y1="358.5" x2="685.5" y2="358.5" stroke="#1a1a1a" stroke-width="1"/>
<line x1="15" y1="374.5" x2="685.5" y2="374.5" stroke="#1a1a1a" stroke-width="1"/>
<line x1="15" y1="390.5" x2="685.5" y2="390.5" stroke="#1a1a1a" stroke-width="1"/>
<line x1="15" y1="406.5" x2="685.5" y2="406.5" stroke="#1a1a1a" stroke-width="1"/>
<line x1="15" y1="423.1" x2="685.5" y2="423.1" stroke="#2a2a2a" stroke-width="2.2"/>
<line x1="15" y1="439.5" x2="685.5" y2="439.5" stroke="#333" stroke-width="1.2"/>
<line x1="14.4" y1="455.5" x2="686.1" y2="455.5" stroke="#333" stroke-width="1.2"/>
<line x1="15.05" y1="22.5" x2="15.05" y2="455.5" stroke="#4a4a4a" stroke-width="1.6"/>
<line x1="35.5" y1="22.5" x2="35.5" y2="455.5" stroke="#222" stroke-width="1.0"/>
<line x1="86.2" y1="22.5" x2="86.2" y2="455.5" stroke="#444" stroke-width="1.4"/>
<line x1="122.2" y1="22.5" x2="122.2" y2="455.5" stroke="#444" stroke-width="1.3"/>
<line x1="162.0" y1="22.5" x2="162.0" y2="455.5" stroke="#6a6a6a" stroke-width="1.7"/>
<line x1="222.0" y1="38.5" x2="222.0" y2="455.5" stroke="#6a6a6a" stroke-width="1.5"/>
<line x1="253.0" y1="22.5" x2="253.0" y2="455.5" stroke="#6a6a6a" stroke-width="1.5"/>
<line x1="307.3" y1="38.5" x2="307.3" y2="455.5" stroke="#3a3a3a" stroke-width="1.3"/>
<line x1="338.8" y1="22.5" x2="338.8" y2="455.5" stroke="#3a3a3a" stroke-width="1.3"/>
<line x1="383.3" y1="22.5" x2="383.3" y2="455.5" stroke="#3a3a3a" stroke-width="1.3"/>
<line x1="426.5" y1="38.5" x2="426.5" y2="455.5" stroke="#3a3a3a" stroke-width="1.3"/>
<line x1="469.7" y1="38.5" x2="469.7" y2="455.5" stroke="#3a3a3a" stroke-width="1.3"/>
<line x1="512.9" y1="38.5" x2="512.9" y2="455.5" stroke="#3a3a3a" stroke-width="1.3"/>
<line x1="556.1" y1="38.5" x2="556.1" y2="455.5" stroke="#3a3a3a" stroke-width="1.3"/>
<line x1="599.3" y1="38.5" x2="599.3" y2="455.5" stroke="#3a3a3a" stroke-width="1.3"/>
<line x1="642.5" y1="38.5" x2="642.5" y2="455.5" stroke="#3a3a3a" stroke-width="1.3"/>
<line x1="685.5" y1="22.5" x2="685.5" y2="455.5" stroke="#3a3a3a" stroke-width="1.3"/>
<text x="691.00" y="82.20" font-size="9.8" text-anchor="start" font-weight="normal" fill="#000" ></text>
<text x="691" y="82.3" font-size="9.2" text-anchor="start">IC<tspan font-size="6">50</tspan> (µg/ml)</text>
<text x="714.00" y="101.10" font-size="9.8" text-anchor="middle" font-weight="normal" fill="#000" >&gt;10</text>
<rect x="691.8" y="105.5" width="44.40000000000009" height="16" fill="#FCE4D6"/>
<text x="714.00" y="117.10" font-size="9.8" text-anchor="middle" font-weight="normal" fill="#000" >1-10</text>
<rect x="691.8" y="121.5" width="44.40000000000009" height="16" fill="#F8CBAD"/>
<text x="714.00" y="133.10" font-size="9.8" text-anchor="middle" font-weight="normal" fill="#000" >0.1-1</text>
<rect x="691.8" y="137.5" width="44.40000000000009" height="16" fill="#F4B183"/>
<text x="714.00" y="149.10" font-size="9.8" text-anchor="middle" font-weight="normal" fill="#000" >0.01-0.1</text>
<rect x="691.8" y="153.5" width="44.40000000000009" height="16" fill="#C55A11"/>
<text x="714.00" y="165.10" font-size="9.8" text-anchor="middle" font-weight="normal" fill="#000" >&lt;0.01</text>
<line x1="691.8" y1="89.5" x2="736.2" y2="89.5" stroke="#1a1a1a" stroke-width="1"/>
<line x1="691.8" y1="105.5" x2="736.2" y2="105.5" stroke="#1a1a1a" stroke-width="1"/>
<line x1="691.8" y1="121.5" x2="736.2" y2="121.5" stroke="#1a1a1a" stroke-width="1"/>
<line x1="691.8" y1="137.5" x2="736.2" y2="137.5" stroke="#1a1a1a" stroke-width="1"/>
<line x1="691.8" y1="153.5" x2="736.2" y2="153.5" stroke="#1a1a1a" stroke-width="1"/>
<line x1="691.8" y1="169.5" x2="736.2" y2="169.5" stroke="#1a1a1a" stroke-width="1"/>
<line x1="691.8" y1="89.5" x2="691.8" y2="169.5" stroke="#3a3a3a" stroke-width="1.3"/>
<line x1="736.2" y1="89.5" x2="736.2" y2="169.5" stroke="#3a3a3a" stroke-width="1.3"/>
<text x="0.3" y="17.6" font-size="21" font-weight="bold">a</text>
<text x="0.5" y="490" font-size="21" font-weight="bold">b</text>
<text x="211.7" y="490" font-size="21" font-weight="bold">c</text>
<text x="515.5" y="490" font-size="21" font-weight="bold">d</text>
<line x1="52.60" y1="563.29" x2="160.80" y2="563.29" stroke="#222" stroke-width="1.1" stroke-dasharray="1 1.2"/>
<line x1="52.60" y1="590.26" x2="160.80" y2="590.26" stroke="#222" stroke-width="1.1" stroke-dasharray="1 1.2"/>
<line x1="52.60" y1="617.23" x2="160.80" y2="617.23" stroke="#222" stroke-width="1.1" stroke-dasharray="1 1.2"/>
<line x1="51.10" y1="535.72" x2="51.10" y2="644.90" stroke="#000" stroke-width="1.5" />
<line x1="50.40" y1="644.20" x2="160.50" y2="644.20" stroke="#000" stroke-width="1.5" />
<line x1="47.10" y1="644.20" x2="51.10" y2="644.20" stroke="#000" stroke-width="1.2" />
<line x1="47.10" y1="617.23" x2="51.10" y2="617.23" stroke="#000" stroke-width="1.2" />
<line x1="47.10" y1="590.26" x2="51.10" y2="590.26" stroke="#000" stroke-width="1.2" />
<line x1="47.10" y1="563.29" x2="51.10" y2="563.29" stroke="#000" stroke-width="1.2" />
<line x1="47.10" y1="536.32" x2="51.10" y2="536.32" stroke="#000" stroke-width="1.2" />
<line x1="48.90" y1="636.08" x2="51.10" y2="636.08" stroke="#000" stroke-width="0.9" />
<line x1="48.90" y1="631.33" x2="51.10" y2="631.33" stroke="#000" stroke-width="0.9" />
<line x1="48.90" y1="627.96" x2="51.10" y2="627.96" stroke="#000" stroke-width="0.9" />
<line x1="48.90" y1="625.35" x2="51.10" y2="625.35" stroke="#000" stroke-width="0.9" />
<line x1="48.90" y1="623.21" x2="51.10" y2="623.21" stroke="#000" stroke-width="0.9" />
<line x1="48.90" y1="621.41" x2="51.10" y2="621.41" stroke="#000" stroke-width="0.9" />
<line x1="48.90" y1="619.84" x2="51.10" y2="619.84" stroke="#000" stroke-width="0.9" />
<line x1="48.90" y1="618.46" x2="51.10" y2="618.46" stroke="#000" stroke-width="0.9" />
<line x1="48.90" y1="609.11" x2="51.10" y2="609.11" stroke="#000" stroke-width="0.9" />
<line x1="48.90" y1="604.36" x2="51.10" y2="604.36" stroke="#000" stroke-width="0.9" />
<line x1="48.90" y1="600.99" x2="51.10" y2="600.99" stroke="#000" stroke-width="0.9" />
<line x1="48.90" y1="598.38" x2="51.10" y2="598.38" stroke="#000" stroke-width="0.9" />
<line x1="48.90" y1="596.24" x2="51.10" y2="596.24" stroke="#000" stroke-width="0.9" />
<line x1="48.90" y1="594.44" x2="51.10" y2="594.44" stroke="#000" stroke-width="0.9" />
<line x1="48.90" y1="592.87" x2="51.10" y2="592.87" stroke="#000" stroke-width="0.9" />
<line x1="48.90" y1="591.49" x2="51.10" y2="591.49" stroke="#000" stroke-width="0.9" />
<line x1="48.90" y1="582.14" x2="51.10" y2="582.14" stroke="#000" stroke-width="0.9" />
<line x1="48.90" y1="577.39" x2="51.10" y2="577.39" stroke="#000" stroke-width="0.9" />
<line x1="48.90" y1="574.02" x2="51.10" y2="574.02" stroke="#000" stroke-width="0.9" />
<line x1="48.90" y1="571.41" x2="51.10" y2="571.41" stroke="#000" stroke-width="0.9" />
<line x1="48.90" y1="569.27" x2="51.10" y2="569.27" stroke="#000" stroke-width="0.9" />
<line x1="48.90" y1="567.47" x2="51.10" y2="567.47" stroke="#000" stroke-width="0.9" />
<line x1="48.90" y1="565.90" x2="51.10" y2="565.90" stroke="#000" stroke-width="0.9" />
<line x1="48.90" y1="564.52" x2="51.10" y2="564.52" stroke="#000" stroke-width="0.9" />
<line x1="48.90" y1="555.17" x2="51.10" y2="555.17" stroke="#000" stroke-width="0.9" />
<line x1="48.90" y1="550.42" x2="51.10" y2="550.42" stroke="#000" stroke-width="0.9" />
<line x1="48.90" y1="547.05" x2="51.10" y2="547.05" stroke="#000" stroke-width="0.9" />
<line x1="48.90" y1="544.44" x2="51.10" y2="544.44" stroke="#000" stroke-width="0.9" />
<line x1="48.90" y1="542.30" x2="51.10" y2="542.30" stroke="#000" stroke-width="0.9" />
<line x1="48.90" y1="540.50" x2="51.10" y2="540.50" stroke="#000" stroke-width="0.9" />
<line x1="48.90" y1="538.93" x2="51.10" y2="538.93" stroke="#000" stroke-width="0.9" />
<line x1="48.90" y1="537.55" x2="51.10" y2="537.55" stroke="#000" stroke-width="0.9" />
<line x1="61.30" y1="644.20" x2="61.30" y2="649.00" stroke="#000" stroke-width="1.2" />
<line x1="76.12" y1="644.20" x2="76.12" y2="649.00" stroke="#000" stroke-width="1.2" />
<line x1="90.94" y1="644.20" x2="90.94" y2="649.00" stroke="#000" stroke-width="1.2" />
<line x1="105.76" y1="644.20" x2="105.76" y2="649.00" stroke="#000" stroke-width="1.2" />
<line x1="120.58" y1="644.20" x2="120.58" y2="649.00" stroke="#000" stroke-width="1.2" />
<line x1="135.40" y1="644.20" x2="135.40" y2="649.00" stroke="#000" stroke-width="1.2" />
<line x1="150.22" y1="644.20" x2="150.22" y2="649.00" stroke="#000" stroke-width="1.2" />
<text x="45.30" y="539.12" font-size="8.2" text-anchor="end" font-weight="bold" fill="#000" >100</text>
<text x="45.30" y="566.09" font-size="8.2" text-anchor="end" font-weight="bold" fill="#000" >10</text>
<text x="45.30" y="593.06" font-size="8.2" text-anchor="end" font-weight="bold" fill="#000" >1</text>
<text x="45.30" y="620.03" font-size="8.2" text-anchor="end" font-weight="bold" fill="#000" >0.1</text>
<text x="45.30" y="647.00" font-size="8.2" text-anchor="end" font-weight="bold" fill="#000" >0.01</text>
<text transform="translate(21.70,585.50) rotate(-90)" font-size="9.2" text-anchor="middle" dy="3.31">Log IC<tspan font-size="6.62">50</tspan> (µg/ml)</text>
<text transform="translate(64.10,657.60) rotate(-45)" font-size="10.5" text-anchor="end">614G</text>
<text transform="translate(78.92,657.60) rotate(-45)" font-size="10.5" text-anchor="end">Beta</text>
<text transform="translate(93.74,657.60) rotate(-45)" font-size="10.5" text-anchor="end">Delta</text>
<text transform="translate(108.56,657.60) rotate(-45)" font-size="10.5" text-anchor="end">BA.1</text>
<text transform="translate(123.38,657.60) rotate(-45)" font-size="10.5" text-anchor="end">BA.2</text>
<text transform="translate(138.20,657.60) rotate(-45)" font-size="10.5" text-anchor="end">BA.4/5</text>
<text transform="translate(153.02,657.60) rotate(-45)" font-size="10.5" text-anchor="end">XBB.1.5</text>
<line x1="61.30" y1="616.70" x2="61.30" y2="630.30" stroke="#444" stroke-width="1.0" />
<line x1="58.80" y1="616.70" x2="63.80" y2="616.70" stroke="#444" stroke-width="1.0" />
<line x1="58.80" y1="630.30" x2="63.80" y2="630.30" stroke="#444" stroke-width="1.0" />
<line x1="76.12" y1="562.80" x2="76.12" y2="593.70" stroke="#444" stroke-width="1.0" />
<line x1="73.62" y1="562.80" x2="78.62" y2="562.80" stroke="#444" stroke-width="1.0" />
<line x1="73.62" y1="593.70" x2="78.62" y2="593.70" stroke="#444" stroke-width="1.0" />
<line x1="90.94" y1="595.50" x2="90.94" y2="616.70" stroke="#444" stroke-width="1.0" />
<line x1="88.44" y1="595.50" x2="93.44" y2="595.50" stroke="#444" stroke-width="1.0" />
<line x1="88.44" y1="616.70" x2="93.44" y2="616.70" stroke="#444" stroke-width="1.0" />
<line x1="105.76" y1="563.00" x2="105.76" y2="578.70" stroke="#444" stroke-width="1.0" />
<line x1="103.26" y1="563.00" x2="108.26" y2="563.00" stroke="#444" stroke-width="1.0" />
<line x1="103.26" y1="578.70" x2="108.26" y2="578.70" stroke="#444" stroke-width="1.0" />
<line x1="120.58" y1="567.20" x2="120.58" y2="582.50" stroke="#444" stroke-width="1.0" />
<line x1="118.08" y1="567.20" x2="123.08" y2="567.20" stroke="#444" stroke-width="1.0" />
<line x1="118.08" y1="582.50" x2="123.08" y2="582.50" stroke="#444" stroke-width="1.0" />
<line x1="135.40" y1="563.00" x2="135.40" y2="581.30" stroke="#444" stroke-width="1.0" />
<line x1="132.90" y1="563.00" x2="137.90" y2="563.00" stroke="#444" stroke-width="1.0" />
<line x1="132.90" y1="581.30" x2="137.90" y2="581.30" stroke="#444" stroke-width="1.0" />
<line x1="150.22" y1="561.30" x2="150.22" y2="572.50" stroke="#444" stroke-width="1.0" />
<line x1="147.72" y1="561.30" x2="152.72" y2="561.30" stroke="#444" stroke-width="1.0" />
<line x1="147.72" y1="572.50" x2="152.72" y2="572.50" stroke="#444" stroke-width="1.0" />
<polyline points="61.30,623.30 76.12,570.50 90.94,606.20 105.76,570.80 120.58,574.70 135.40,572.20 150.22,567.00" fill="none" stroke="#000" stroke-width="1.5" stroke-linejoin="round"/>
<circle cx="61.30" cy="623.30" r="2.6" fill="#000"/>
<circle cx="76.12" cy="570.50" r="2.6" fill="#000"/>
<circle cx="90.94" cy="606.20" r="2.6" fill="#000"/>
<circle cx="105.76" cy="570.80" r="2.6" fill="#000"/>
<circle cx="120.58" cy="574.70" r="2.6" fill="#000"/>
<circle cx="135.40" cy="572.20" r="2.6" fill="#000"/>
<circle cx="150.22" cy="567.00" r="2.6" fill="#000"/>
<line x1="61.10" y1="523.10" x2="77.50" y2="523.10" stroke="#000" stroke-width="1.6" />
<line x1="61.10" y1="527.70" x2="105.10" y2="527.70" stroke="#000" stroke-width="1.6" />
<line x1="61.10" y1="532.50" x2="119.60" y2="532.50" stroke="#000" stroke-width="1.6" />
<line x1="61.10" y1="537.10" x2="134.50" y2="537.10" stroke="#000" stroke-width="1.6" />
<line x1="61.10" y1="541.80" x2="149.90" y2="541.80" stroke="#000" stroke-width="1.6" />
<line x1="91.10" y1="498.80" x2="106.00" y2="498.80" stroke="#000" stroke-width="1.6" />
<line x1="91.10" y1="503.60" x2="121.20" y2="503.60" stroke="#000" stroke-width="1.6" />
<line x1="91.10" y1="508.30" x2="135.40" y2="508.30" stroke="#000" stroke-width="1.6" />
<line x1="91.10" y1="513.00" x2="149.90" y2="513.00" stroke="#000" stroke-width="1.6" />
<line x1="61.10" y1="554.20" x2="90.90" y2="554.20" stroke="#000" stroke-width="1.6" />
<polygon points="64.00,514.80 64.62,516.35 66.28,516.46 65.00,517.52 65.41,519.14 64.00,518.25 62.59,519.14 63.00,517.52 61.72,516.46 63.38,516.35" fill="#000" stroke="#000" stroke-width="0.5" stroke-linejoin="round"/>
<polygon points="70.10,514.80 70.72,516.35 72.38,516.46 71.10,517.52 71.51,519.14 70.10,518.25 68.69,519.14 69.10,517.52 67.82,516.46 69.48,516.35" fill="#000" stroke="#000" stroke-width="0.5" stroke-linejoin="round"/>
<polygon points="76.30,514.80 76.92,516.35 78.58,516.46 77.30,517.52 77.71,519.14 76.30,518.25 74.89,519.14 75.30,517.52 74.02,516.46 75.68,516.35" fill="#000" stroke="#000" stroke-width="0.5" stroke-linejoin="round"/>
<polygon points="93.80,490.70 94.42,492.25 96.08,492.36 94.80,493.42 95.21,495.04 93.80,494.15 92.39,495.04 92.80,493.42 91.52,492.36 93.18,492.25" fill="#000" stroke="#000" stroke-width="0.5" stroke-linejoin="round"/>
<polygon points="99.90,490.70 100.52,492.25 102.18,492.36 100.90,493.42 101.31,495.04 99.90,494.15 98.49,495.04 98.90,493.42 97.62,492.36 99.28,492.25" fill="#000" stroke="#000" stroke-width="0.5" stroke-linejoin="round"/>
<polygon points="106.20,490.70 106.82,492.25 108.48,492.36 107.20,493.42 107.61,495.04 106.20,494.15 104.79,495.04 105.20,493.42 103.92,492.36 105.58,492.25" fill="#000" stroke="#000" stroke-width="0.5" stroke-linejoin="round"/>
<polygon points="76.30,546.80 76.92,548.35 78.58,548.46 77.30,549.52 77.71,551.14 76.30,550.25 74.89,551.14 75.30,549.52 74.02,548.46 75.68,548.35" fill="#000" stroke="#000" stroke-width="0.5" stroke-linejoin="round"/>
<line x1="240.20" y1="535.29" x2="348.00" y2="535.29" stroke="#222" stroke-width="1.1" stroke-dasharray="1 1.2"/>
<line x1="240.20" y1="608.03" x2="348.00" y2="608.03" stroke="#222" stroke-width="1.1" stroke-dasharray="1 1.2"/>
<line x1="238.70" y1="534.69" x2="238.70" y2="645.10" stroke="#000" stroke-width="1.5" />
<line x1="238.00" y1="644.40" x2="348.00" y2="644.40" stroke="#000" stroke-width="1.5" />
<line x1="234.70" y1="644.40" x2="238.70" y2="644.40" stroke="#000" stroke-width="1.2" />
<line x1="234.70" y1="608.03" x2="238.70" y2="608.03" stroke="#000" stroke-width="1.2" />
<line x1="234.70" y1="571.66" x2="238.70" y2="571.66" stroke="#000" stroke-width="1.2" />
<line x1="234.70" y1="535.29" x2="238.70" y2="535.29" stroke="#000" stroke-width="1.2" />
<line x1="236.50" y1="633.45" x2="238.70" y2="633.45" stroke="#000" stroke-width="0.9" />
<line x1="236.50" y1="627.05" x2="238.70" y2="627.05" stroke="#000" stroke-width="0.9" />
<line x1="236.50" y1="622.50" x2="238.70" y2="622.50" stroke="#000" stroke-width="0.9" />
<line x1="236.50" y1="618.98" x2="238.70" y2="618.98" stroke="#000" stroke-width="0.9" />
<line x1="236.50" y1="616.10" x2="238.70" y2="616.10" stroke="#000" stroke-width="0.9" />
<line x1="236.50" y1="613.66" x2="238.70" y2="613.66" stroke="#000" stroke-width="0.9" />
<line x1="236.50" y1="611.55" x2="238.70" y2="611.55" stroke="#000" stroke-width="0.9" />
<line x1="236.50" y1="609.69" x2="238.70" y2="609.69" stroke="#000" stroke-width="0.9" />
<line x1="236.50" y1="597.08" x2="238.70" y2="597.08" stroke="#000" stroke-width="0.9" />
<line x1="236.50" y1="590.68" x2="238.70" y2="590.68" stroke="#000" stroke-width="0.9" />
<line x1="236.50" y1="586.13" x2="238.70" y2="586.13" stroke="#000" stroke-width="0.9" />
<line x1="236.50" y1="582.61" x2="238.70" y2="582.61" stroke="#000" stroke-width="0.9" />
<line x1="236.50" y1="579.73" x2="238.70" y2="579.73" stroke="#000" stroke-width="0.9" />
<line x1="236.50" y1="577.29" x2="238.70" y2="577.29" stroke="#000" stroke-width="0.9" />
<line x1="236.50" y1="575.18" x2="238.70" y2="575.18" stroke="#000" stroke-width="0.9" />
<line x1="236.50" y1="573.32" x2="238.70" y2="573.32" stroke="#000" stroke-width="0.9" />
<line x1="236.50" y1="560.71" x2="238.70" y2="560.71" stroke="#000" stroke-width="0.9" />
<line x1="236.50" y1="554.31" x2="238.70" y2="554.31" stroke="#000" stroke-width="0.9" />
<line x1="236.50" y1="549.76" x2="238.70" y2="549.76" stroke="#000" stroke-width="0.9" />
<line x1="236.50" y1="546.24" x2="238.70" y2="546.24" stroke="#000" stroke-width="0.9" />
<line x1="236.50" y1="543.36" x2="238.70" y2="543.36" stroke="#000" stroke-width="0.9" />
<line x1="236.50" y1="540.92" x2="238.70" y2="540.92" stroke="#000" stroke-width="0.9" />
<line x1="236.50" y1="538.81" x2="238.70" y2="538.81" stroke="#000" stroke-width="0.9" />
<line x1="236.50" y1="536.95" x2="238.70" y2="536.95" stroke="#000" stroke-width="0.9" />
<line x1="246.20" y1="644.40" x2="246.20" y2="648.90" stroke="#000" stroke-width="1.2" />
<line x1="261.77" y1="644.40" x2="261.77" y2="648.90" stroke="#000" stroke-width="1.2" />
<line x1="277.34" y1="644.40" x2="277.34" y2="648.90" stroke="#000" stroke-width="1.2" />
<line x1="292.91" y1="644.40" x2="292.91" y2="648.90" stroke="#000" stroke-width="1.2" />
<line x1="308.48" y1="644.40" x2="308.48" y2="648.90" stroke="#000" stroke-width="1.2" />
<line x1="324.05" y1="644.40" x2="324.05" y2="648.90" stroke="#000" stroke-width="1.2" />
<line x1="339.62" y1="644.40" x2="339.62" y2="648.90" stroke="#000" stroke-width="1.2" />
<text x="232.10" y="538.09" font-size="8.2" text-anchor="end" font-weight="bold" fill="#000" >10</text>
<text x="232.10" y="574.46" font-size="8.2" text-anchor="end" font-weight="bold" fill="#000" >1</text>
<text x="232.10" y="610.83" font-size="8.2" text-anchor="end" font-weight="bold" fill="#000" >0.1</text>
<text x="232.10" y="647.20" font-size="8.2" text-anchor="end" font-weight="bold" fill="#000" >0.01</text>
<text transform="translate(210.00,585.50) rotate(-90)" font-size="9.2" text-anchor="middle" dy="3.31">Log IC<tspan font-size="6.62">50</tspan> (µg/ml)</text>
<text transform="translate(249.00,657.60) rotate(-45)" font-size="10.5" text-anchor="end">614G</text>
<text transform="translate(264.57,657.60) rotate(-45)" font-size="10.5" text-anchor="end">Beta</text>
<text transform="translate(280.14,657.60) rotate(-45)" font-size="10.5" text-anchor="end">Delta</text>
<text transform="translate(295.71,657.60) rotate(-45)" font-size="10.5" text-anchor="end">BA.1</text>
<text transform="translate(311.28,657.60) rotate(-45)" font-size="10.5" text-anchor="end">BA.2</text>
<text transform="translate(326.85,657.60) rotate(-45)" font-size="10.5" text-anchor="end">BA.4/5</text>
<text transform="translate(342.42,657.60) rotate(-45)" font-size="10.5" text-anchor="end">XBB.1.5</text>
<text x="290.50" y="506.60" font-size="12.4" text-anchor="middle" font-weight="normal" fill="#000" >IGHV3-53/66</text>
<line x1="247.20" y1="526.30" x2="276.70" y2="526.30" stroke="#000" stroke-width="1.6" />
<text x="261.95" y="523.20" font-size="11" text-anchor="middle" font-weight="normal" fill="#000" >ns</text>
<polyline points="246.20,594.87 261.77,536.44 277.34,590.16 292.91,535.29 308.48,535.29 324.05,535.29 339.62,535.29" fill="none" stroke="#8E1E9E" stroke-width="0.9" stroke-linejoin="round"/>
<polyline points="246.20,600.61 261.77,535.29 277.34,602.72 292.91,535.29 308.48,535.45 324.05,540.48 339.62,535.29" fill="none" stroke="#FF9300" stroke-width="0.9" stroke-linejoin="round"/>
<polyline points="246.20,592.34 261.77,596.31 277.34,588.70 292.91,535.29 308.48,535.29 324.05,562.38 339.62,537.49" fill="none" stroke="#B530F0" stroke-width="0.9" stroke-linejoin="round"/>
<polyline points="246.20,606.52 261.77,586.94 277.34,601.63 292.91,557.19 308.48,568.78 324.05,598.75 339.62,546.24" fill="none" stroke="#00C800" stroke-width="0.9" stroke-linejoin="round"/>
<polyline points="246.20,622.50 261.77,615.08 277.34,624.61 292.91,535.29 308.48,576.20 324.05,621.00 339.62,574.79" fill="none" stroke="#FF2600" stroke-width="0.9" stroke-linejoin="round"/>
<polyline points="246.20,628.14 261.77,627.05 277.34,625.07 292.91,548.99 308.48,579.47 324.05,620.64 339.62,611.55" fill="none" stroke="#0433FF" stroke-width="0.9" stroke-linejoin="round"/>
<circle cx="246.20" cy="594.87" r="2.00" fill="none" stroke="#8E1E9E" stroke-width="1.2"/>
<circle cx="261.77" cy="536.44" r="2.00" fill="none" stroke="#8E1E9E" stroke-width="1.2"/>
<circle cx="277.34" cy="590.16" r="2.00" fill="none" stroke="#8E1E9E" stroke-width="1.2"/>
<circle cx="292.91" cy="535.29" r="2.00" fill="none" stroke="#8E1E9E" stroke-width="1.2"/>
<circle cx="308.48" cy="535.29" r="2.00" fill="none" stroke="#8E1E9E" stroke-width="1.2"/>
<circle cx="324.05" cy="535.29" r="2.00" fill="none" stroke="#8E1E9E" stroke-width="1.2"/>
<circle cx="339.62" cy="535.29" r="2.00" fill="none" stroke="#8E1E9E" stroke-width="1.2"/>
<polygon points="246.20,598.11 248.70,600.61 246.20,603.11 243.70,600.61" fill="#FF9300"/>
<polygon points="261.77,532.79 264.27,535.29 261.77,537.79 259.27,535.29" fill="#FF9300"/>
<polygon points="277.34,600.22 279.84,602.72 277.34,605.22 274.84,602.72" fill="#FF9300"/>
<polygon points="292.91,532.79 295.41,535.29 292.91,537.79 290.41,535.29" fill="#FF9300"/>
<polygon points="308.48,532.95 310.98,535.45 308.48,537.95 305.98,535.45" fill="#FF9300"/>
<polygon points="324.05,537.98 326.55,540.48 324.05,542.98 321.55,540.48" fill="#FF9300"/>
<polygon points="339.62,532.79 342.12,535.29 339.62,537.79 337.12,535.29" fill="#FF9300"/>
<polygon points="246.20,594.74 248.60,590.42 243.80,590.42" fill="#B530F0"/>
<polygon points="261.77,598.71 264.17,594.39 259.37,594.39" fill="#B530F0"/>
<polygon points="277.34,591.10 279.74,586.78 274.94,586.78" fill="#B530F0"/>
<polygon points="292.91,537.69 295.31,533.37 290.51,533.37" fill="#B530F0"/>
<polygon points="308.48,537.69 310.88,533.37 306.08,533.37" fill="#B530F0"/>
<polygon points="324.05,564.78 326.45,560.46 321.65,560.46" fill="#B530F0"/>
<polygon points="339.62,539.89 342.02,535.57 337.22,535.57" fill="#B530F0"/>
<polygon points="246.20,604.12 248.60,608.44 243.80,608.44" fill="#00C800"/>
<polygon points="261.77,584.54 264.17,588.86 259.37,588.86" fill="#00C800"/>
<polygon points="277.34,599.23 279.74,603.55 274.94,603.55" fill="#00C800"/>
<polygon points="292.91,554.79 295.31,559.11 290.51,559.11" fill="#00C800"/>
<polygon points="308.48,566.38 310.88,570.70 306.08,570.70" fill="#00C800"/>
<polygon points="324.05,596.35 326.45,600.67 321.65,600.67" fill="#00C800"/>
<polygon points="339.62,543.84 342.02,548.16 337.22,548.16" fill="#00C800"/>
<rect x="244.10" y="620.40" width="4.20" height="4.20" fill="#FF2600"/>
<rect x="259.67" y="612.98" width="4.20" height="4.20" fill="#FF2600"/>
<rect x="275.24" y="622.51" width="4.20" height="4.20" fill="#FF2600"/>
<rect x="290.81" y="533.19" width="4.20" height="4.20" fill="#FF2600"/>
<rect x="306.38" y="574.10" width="4.20" height="4.20" fill="#FF2600"/>
<rect x="321.95" y="618.90" width="4.20" height="4.20" fill="#FF2600"/>
<rect x="337.52" y="572.69" width="4.20" height="4.20" fill="#FF2600"/>
<circle cx="246.20" cy="628.14" r="2.40" fill="#0433FF"/>
<circle cx="261.77" cy="627.05" r="2.40" fill="#0433FF"/>
<circle cx="277.34" cy="625.07" r="2.40" fill="#0433FF"/>
<circle cx="292.91" cy="548.99" r="2.40" fill="#0433FF"/>
<circle cx="308.48" cy="579.47" r="2.40" fill="#0433FF"/>
<circle cx="324.05" cy="620.64" r="2.40" fill="#0433FF"/>
<circle cx="339.62" cy="611.55" r="2.40" fill="#0433FF"/>
<line x1="377.80" y1="535.29" x2="485.80" y2="535.29" stroke="#222" stroke-width="1.1" stroke-dasharray="1 1.2"/>
<line x1="377.80" y1="608.03" x2="485.80" y2="608.03" stroke="#222" stroke-width="1.1" stroke-dasharray="1 1.2"/>
<line x1="376.30" y1="534.69" x2="376.30" y2="645.10" stroke="#000" stroke-width="1.5" />
<line x1="375.60" y1="644.40" x2="485.80" y2="644.40" stroke="#000" stroke-width="1.5" />
<line x1="372.30" y1="644.40" x2="376.30" y2="644.40" stroke="#000" stroke-width="1.2" />
<line x1="372.30" y1="608.03" x2="376.30" y2="608.03" stroke="#000" stroke-width="1.2" />
<line x1="372.30" y1="571.66" x2="376.30" y2="571.66" stroke="#000" stroke-width="1.2" />
<line x1="372.30" y1="535.29" x2="376.30" y2="535.29" stroke="#000" stroke-width="1.2" />
<line x1="374.10" y1="633.45" x2="376.30" y2="633.45" stroke="#000" stroke-width="0.9" />
<line x1="374.10" y1="627.05" x2="376.30" y2="627.05" stroke="#000" stroke-width="0.9" />
<line x1="374.10" y1="622.50" x2="376.30" y2="622.50" stroke="#000" stroke-width="0.9" />
<line x1="374.10" y1="618.98" x2="376.30" y2="618.98" stroke="#000" stroke-width="0.9" />
<line x1="374.10" y1="616.10" x2="376.30" y2="616.10" stroke="#000" stroke-width="0.9" />
<line x1="374.10" y1="613.66" x2="376.30" y2="613.66" stroke="#000" stroke-width="0.9" />
<line x1="374.10" y1="611.55" x2="376.30" y2="611.55" stroke="#000" stroke-width="0.9" />
<line x1="374.10" y1="609.69" x2="376.30" y2="609.69" stroke="#000" stroke-width="0.9" />
<line x1="374.10" y1="597.08" x2="376.30" y2="597.08" stroke="#000" stroke-width="0.9" />
<line x1="374.10" y1="590.68" x2="376.30" y2="590.68" stroke="#000" stroke-width="0.9" />
<line x1="374.10" y1="586.13" x2="376.30" y2="586.13" stroke="#000" stroke-width="0.9" />
<line x1="374.10" y1="582.61" x2="376.30" y2="582.61" stroke="#000" stroke-width="0.9" />
<line x1="374.10" y1="579.73" x2="376.30" y2="579.73" stroke="#000" stroke-width="0.9" />
<line x1="374.10" y1="577.29" x2="376.30" y2="577.29" stroke="#000" stroke-width="0.9" />
<line x1="374.10" y1="575.18" x2="376.30" y2="575.18" stroke="#000" stroke-width="0.9" />
<line x1="374.10" y1="573.32" x2="376.30" y2="573.32" stroke="#000" stroke-width="0.9" />
<line x1="374.10" y1="560.71" x2="376.30" y2="560.71" stroke="#000" stroke-width="0.9" />
<line x1="374.10" y1="554.31" x2="376.30" y2="554.31" stroke="#000" stroke-width="0.9" />
<line x1="374.10" y1="549.76" x2="376.30" y2="549.76" stroke="#000" stroke-width="0.9" />
<line x1="374.10" y1="546.24" x2="376.30" y2="546.24" stroke="#000" stroke-width="0.9" />
<line x1="374.10" y1="543.36" x2="376.30" y2="543.36" stroke="#000" stroke-width="0.9" />
<line x1="374.10" y1="540.92" x2="376.30" y2="540.92" stroke="#000" stroke-width="0.9" />
<line x1="374.10" y1="538.81" x2="376.30" y2="538.81" stroke="#000" stroke-width="0.9" />
<line x1="374.10" y1="536.95" x2="376.30" y2="536.95" stroke="#000" stroke-width="0.9" />
<line x1="384.20" y1="644.40" x2="384.20" y2="648.90" stroke="#000" stroke-width="1.2" />
<line x1="399.77" y1="644.40" x2="399.77" y2="648.90" stroke="#000" stroke-width="1.2" />
<line x1="415.34" y1="644.40" x2="415.34" y2="648.90" stroke="#000" stroke-width="1.2" />
<line x1="430.91" y1="644.40" x2="430.91" y2="648.90" stroke="#000" stroke-width="1.2" />
<line x1="446.48" y1="644.40" x2="446.48" y2="648.90" stroke="#000" stroke-width="1.2" />
<line x1="462.05" y1="644.40" x2="462.05" y2="648.90" stroke="#000" stroke-width="1.2" />
<line x1="477.62" y1="644.40" x2="477.62" y2="648.90" stroke="#000" stroke-width="1.2" />
<text x="369.70" y="538.09" font-size="8.2" text-anchor="end" font-weight="bold" fill="#000" >10</text>
<text x="369.70" y="574.46" font-size="8.2" text-anchor="end" font-weight="bold" fill="#000" >1</text>
<text x="369.70" y="610.83" font-size="8.2" text-anchor="end" font-weight="bold" fill="#000" >0.1</text>
<text x="369.70" y="647.20" font-size="8.2" text-anchor="end" font-weight="bold" fill="#000" >0.01</text>
<text transform="translate(387.00,657.60) rotate(-45)" font-size="10.5" text-anchor="end">614G</text>
<text transform="translate(402.57,657.60) rotate(-45)" font-size="10.5" text-anchor="end">Beta</text>
<text transform="translate(418.14,657.60) rotate(-45)" font-size="10.5" text-anchor="end">Delta</text>
<text transform="translate(433.71,657.60) rotate(-45)" font-size="10.5" text-anchor="end">BA.1</text>
<text transform="translate(449.28,657.60) rotate(-45)" font-size="10.5" text-anchor="end">BA.2</text>
<text transform="translate(464.85,657.60) rotate(-45)" font-size="10.5" text-anchor="end">BA.4/5</text>
<text transform="translate(480.42,657.60) rotate(-45)" font-size="10.5" text-anchor="end">XBB.1.5</text>
<text x="422.80" y="506.60" font-size="12.4" text-anchor="middle" font-weight="normal" fill="#000" >IGHV1-69</text>
<line x1="384.20" y1="526.30" x2="414.20" y2="526.30" stroke="#000" stroke-width="1.6" />
<polygon points="399.20,519.30 399.82,520.85 401.48,520.96 400.20,522.02 400.61,523.64 399.20,522.75 397.79,523.64 398.20,522.02 396.92,520.96 398.58,520.85" fill="#000" stroke="#000" stroke-width="0.5" stroke-linejoin="round"/>
<polyline points="384.20,575.99 399.77,535.29 415.34,535.29 430.91,535.29 446.48,535.29 462.05,535.29 477.62,535.29" fill="none" stroke="#8E1E9E" stroke-width="0.9" stroke-linejoin="round"/>
<polyline points="384.20,644.40 399.77,535.29 415.34,535.29 430.91,535.29 446.48,535.29 462.05,535.29 477.62,535.29" fill="none" stroke="#FF9300" stroke-width="0.9" stroke-linejoin="round"/>
<polyline points="384.20,636.02 399.77,535.93 415.34,571.66 430.91,535.29 446.48,535.29 462.05,535.29 477.62,535.29" fill="none" stroke="#B530F0" stroke-width="0.9" stroke-linejoin="round"/>
<polyline points="384.20,613.00 399.77,535.29 415.34,591.21 430.91,535.29 446.48,535.29 462.05,535.29 477.62,535.29" fill="none" stroke="#00C800" stroke-width="0.9" stroke-linejoin="round"/>
<polyline points="384.20,629.31 399.77,535.29 415.34,601.63 430.91,535.29 446.48,535.29 462.05,535.29 477.62,535.29" fill="none" stroke="#FF2600" stroke-width="0.9" stroke-linejoin="round"/>
<polyline points="384.20,640.26 399.77,535.29 415.34,622.90 430.91,535.29 446.48,535.29 462.05,535.29 477.62,535.29" fill="none" stroke="#0433FF" stroke-width="0.9" stroke-linejoin="round"/>
<circle cx="384.20" cy="575.99" r="2.00" fill="none" stroke="#8E1E9E" stroke-width="1.2"/>
<circle cx="399.77" cy="535.29" r="2.00" fill="none" stroke="#8E1E9E" stroke-width="1.2"/>
<circle cx="415.34" cy="535.29" r="2.00" fill="none" stroke="#8E1E9E" stroke-width="1.2"/>
<circle cx="430.91" cy="535.29" r="2.00" fill="none" stroke="#8E1E9E" stroke-width="1.2"/>
<circle cx="446.48" cy="535.29" r="2.00" fill="none" stroke="#8E1E9E" stroke-width="1.2"/>
<circle cx="462.05" cy="535.29" r="2.00" fill="none" stroke="#8E1E9E" stroke-width="1.2"/>
<circle cx="477.62" cy="535.29" r="2.00" fill="none" stroke="#8E1E9E" stroke-width="1.2"/>
<polygon points="384.20,641.90 386.70,644.40 384.20,646.90 381.70,644.40" fill="#FF9300"/>
<polygon points="399.77,532.79 402.27,535.29 399.77,537.79 397.27,535.29" fill="#FF9300"/>
<polygon points="415.34,532.79 417.84,535.29 415.34,537.79 412.84,535.29" fill="#FF9300"/>
<polygon points="430.91,532.79 433.41,535.29 430.91,537.79 428.41,535.29" fill="#FF9300"/>
<polygon points="446.48,532.79 448.98,535.29 446.48,537.79 443.98,535.29" fill="#FF9300"/>
<polygon points="462.05,532.79 464.55,535.29 462.05,537.79 459.55,535.29" fill="#FF9300"/>
<polygon points="477.62,532.79 480.12,535.29 477.62,537.79 475.12,535.29" fill="#FF9300"/>
<polygon points="384.20,638.42 386.60,634.10 381.80,634.10" fill="#B530F0"/>
<polygon points="399.77,538.33 402.17,534.01 397.37,534.01" fill="#B530F0"/>
<polygon points="415.34,574.06 417.74,569.74 412.94,569.74" fill="#B530F0"/>
<polygon points="430.91,537.69 433.31,533.37 428.51,533.37" fill="#B530F0"/>
<polygon points="446.48,537.69 448.88,533.37 444.08,533.37" fill="#B530F0"/>
<polygon points="462.05,537.69 464.45,533.37 459.65,533.37" fill="#B530F0"/>
<polygon points="477.62,537.69 480.02,533.37 475.22,533.37" fill="#B530F0"/>
<polygon points="384.20,610.60 386.60,614.92 381.80,614.92" fill="#00C800"/>
<polygon points="399.77,532.89 402.17,537.21 397.37,537.21" fill="#00C800"/>
<polygon points="415.34,588.81 417.74,593.13 412.94,593.13" fill="#00C800"/>
<polygon points="430.91,532.89 433.31,537.21 428.51,537.21" fill="#00C800"/>
<polygon points="446.48,532.89 448.88,537.21 444.08,537.21" fill="#00C800"/>
<polygon points="462.05,532.89 464.45,537.21 459.65,537.21" fill="#00C800"/>
<polygon points="477.62,532.89 480.02,537.21 475.22,537.21" fill="#00C800"/>
<rect x="382.10" y="627.21" width="4.20" height="4.20" fill="#FF2600"/>
<rect x="397.67" y="533.19" width="4.20" height="4.20" fill="#FF2600"/>
<rect x="413.24" y="599.53" width="4.20" height="4.20" fill="#FF2600"/>
<rect x="428.81" y="533.19" width="4.20" height="4.20" fill="#FF2600"/>
<rect x="444.38" y="533.19" width="4.20" height="4.20" fill="#FF2600"/>
<rect x="459.95" y="533.19" width="4.20" height="4.20" fill="#FF2600"/>
<rect x="475.52" y="533.19" width="4.20" height="4.20" fill="#FF2600"/>
<circle cx="384.20" cy="640.26" r="2.40" fill="#0433FF"/>
<circle cx="399.77" cy="535.29" r="2.40" fill="#0433FF"/>
<circle cx="415.34" cy="622.90" r="2.40" fill="#0433FF"/>
<circle cx="430.91" cy="535.29" r="2.40" fill="#0433FF"/>
<circle cx="446.48" cy="535.29" r="2.40" fill="#0433FF"/>
<circle cx="462.05" cy="535.29" r="2.40" fill="#0433FF"/>
<circle cx="477.62" cy="535.29" r="2.40" fill="#0433FF"/>
<line x1="556.30" y1="536.14" x2="556.30" y2="645.20" stroke="#000" stroke-width="1.5" />
<line x1="555.60" y1="644.50" x2="628.00" y2="644.50" stroke="#000" stroke-width="1.5" />
<line x1="552.30" y1="644.50" x2="556.30" y2="644.50" stroke="#000" stroke-width="1.2" />
<text x="551.10" y="647.30" font-size="8.2" text-anchor="end" font-weight="bold" fill="#000" >0</text>
<line x1="552.30" y1="617.56" x2="556.30" y2="617.56" stroke="#000" stroke-width="1.2" />
<text x="551.10" y="620.36" font-size="8.2" text-anchor="end" font-weight="bold" fill="#000" >2</text>
<line x1="552.30" y1="590.62" x2="556.30" y2="590.62" stroke="#000" stroke-width="1.2" />
<text x="551.10" y="593.42" font-size="8.2" text-anchor="end" font-weight="bold" fill="#000" >4</text>
<line x1="552.30" y1="563.68" x2="556.30" y2="563.68" stroke="#000" stroke-width="1.2" />
<text x="551.10" y="566.48" font-size="8.2" text-anchor="end" font-weight="bold" fill="#000" >6</text>
<line x1="552.30" y1="536.74" x2="556.30" y2="536.74" stroke="#000" stroke-width="1.2" />
<text x="551.10" y="539.54" font-size="8.2" text-anchor="end" font-weight="bold" fill="#000" >8</text>
<line x1="570.40" y1="644.50" x2="570.40" y2="649.20" stroke="#000" stroke-width="1.2" />
<line x1="592.00" y1="644.50" x2="592.00" y2="649.20" stroke="#000" stroke-width="1.2" />
<line x1="613.60" y1="644.50" x2="613.60" y2="649.20" stroke="#000" stroke-width="1.2" />
<text transform="translate(573.20,657.60) rotate(-45)" font-size="10.5" text-anchor="end">3-53</text>
<text transform="translate(594.80,657.60) rotate(-45)" font-size="10.5" text-anchor="end">1-69</text>
<text transform="translate(616.40,657.60) rotate(-45)" font-size="10.5" text-anchor="end">others</text>
<text x="592.20" y="517.40" font-size="12.4" text-anchor="middle" font-weight="normal" fill="#000" >H-chain</text>
<text transform="translate(530.9,585.5) rotate(-90)" font-size="10" text-anchor="middle" dy="3.6">SHM %</text>
<line x1="563.40" y1="610.83" x2="577.40" y2="610.83" stroke="#0433FF" stroke-width="1.6" />
<circle cx="570.40" cy="569.07" r="2.40" fill="#0433FF"/>
<circle cx="565.40" cy="582.54" r="2.40" fill="#0433FF"/>
<circle cx="575.40" cy="582.54" r="2.40" fill="#0433FF"/>
<circle cx="570.40" cy="610.83" r="2.40" fill="#0433FF"/>
<circle cx="570.40" cy="616.21" r="2.40" fill="#0433FF"/>
<circle cx="575.40" cy="625.64" r="2.40" fill="#0433FF"/>
<circle cx="565.40" cy="629.68" r="2.40" fill="#0433FF"/>
<line x1="585.00" y1="576.48" x2="599.00" y2="576.48" stroke="#FF2600" stroke-width="1.6" />
<polygon points="592.00,553.20 594.40,557.52 589.60,557.52" fill="#FF2600"/>
<polygon points="592.00,562.63 594.40,566.95 589.60,566.95" fill="#FF2600"/>
<polygon points="597.00,572.06 599.40,576.38 594.60,576.38" fill="#FF2600"/>
<polygon points="587.00,576.10 589.40,580.42 584.60,580.42" fill="#FF2600"/>
<polygon points="592.00,594.96 594.40,599.27 589.60,599.27" fill="#FF2600"/>
<polygon points="592.00,600.34 594.40,604.66 589.60,604.66" fill="#FF2600"/>
<line x1="606.40" y1="585.23" x2="620.80" y2="585.23" stroke="#00C800" stroke-width="1.6" />
<polygon points="611.20,553.96 613.60,549.64 608.80,549.64" fill="#00C800"/>
<polygon points="616.00,553.96 618.40,549.64 613.60,549.64" fill="#00C800"/>
<polygon points="613.60,571.47 616.00,567.15 611.20,567.15" fill="#00C800"/>
<polygon points="613.60,576.86 616.00,572.54 611.20,572.54" fill="#00C800"/>
<polygon points="616.20,582.24 618.60,577.92 613.80,577.92" fill="#00C800"/>
<polygon points="611.00,584.94 613.40,580.62 608.60,580.62" fill="#00C800"/>
<polygon points="613.60,590.33 616.00,586.01 611.20,586.01" fill="#00C800"/>
<polygon points="613.60,605.14 616.00,600.82 611.20,600.82" fill="#00C800"/>
<polygon points="608.40,609.18 610.80,604.86 606.00,604.86" fill="#00C800"/>
<polygon points="618.80,609.18 621.20,604.86 616.40,604.86" fill="#00C800"/>
<polygon points="613.60,614.57 616.00,610.25 611.20,610.25" fill="#00C800"/>
<polygon points="613.60,633.43 616.00,629.11 611.20,629.11" fill="#00C800"/>
<line x1="650.60" y1="536.14" x2="650.60" y2="645.20" stroke="#000" stroke-width="1.5" />
<line x1="649.90" y1="644.50" x2="722.50" y2="644.50" stroke="#000" stroke-width="1.5" />
<line x1="646.60" y1="644.50" x2="650.60" y2="644.50" stroke="#000" stroke-width="1.2" />
<text x="645.40" y="647.30" font-size="8.2" text-anchor="end" font-weight="bold" fill="#000" >0</text>
<line x1="646.60" y1="617.56" x2="650.60" y2="617.56" stroke="#000" stroke-width="1.2" />
<text x="645.40" y="620.36" font-size="8.2" text-anchor="end" font-weight="bold" fill="#000" >2</text>
<line x1="646.60" y1="590.62" x2="650.60" y2="590.62" stroke="#000" stroke-width="1.2" />
<text x="645.40" y="593.42" font-size="8.2" text-anchor="end" font-weight="bold" fill="#000" >4</text>
<line x1="646.60" y1="563.68" x2="650.60" y2="563.68" stroke="#000" stroke-width="1.2" />
<text x="645.40" y="566.48" font-size="8.2" text-anchor="end" font-weight="bold" fill="#000" >6</text>
<line x1="646.60" y1="536.74" x2="650.60" y2="536.74" stroke="#000" stroke-width="1.2" />
<text x="645.40" y="539.54" font-size="8.2" text-anchor="end" font-weight="bold" fill="#000" >8</text>
<line x1="665.00" y1="644.50" x2="665.00" y2="649.20" stroke="#000" stroke-width="1.2" />
<line x1="686.70" y1="644.50" x2="686.70" y2="649.20" stroke="#000" stroke-width="1.2" />
<line x1="708.30" y1="644.50" x2="708.30" y2="649.20" stroke="#000" stroke-width="1.2" />
<text transform="translate(667.80,657.60) rotate(-45)" font-size="10.5" text-anchor="end">3-53</text>
<text transform="translate(689.50,657.60) rotate(-45)" font-size="10.5" text-anchor="end">1-69</text>
<text transform="translate(711.10,657.60) rotate(-45)" font-size="10.5" text-anchor="end">others</text>
<text x="686.20" y="517.40" font-size="12.4" text-anchor="middle" font-weight="normal" fill="#000" >L-chain</text>
<line x1="658.00" y1="610.83" x2="672.00" y2="610.83" stroke="#0433FF" stroke-width="1.6" />
<circle cx="665.00" cy="591.97" r="2.40" fill="#0433FF"/>
<circle cx="665.00" cy="605.44" r="2.40" fill="#0433FF"/>
<circle cx="660.00" cy="610.83" r="2.40" fill="#0433FF"/>
<circle cx="665.00" cy="610.83" r="2.40" fill="#0433FF"/>
<circle cx="670.00" cy="610.83" r="2.40" fill="#0433FF"/>
<circle cx="665.00" cy="620.25" r="2.40" fill="#0433FF"/>
<circle cx="665.00" cy="629.68" r="2.40" fill="#0433FF"/>
<line x1="679.70" y1="593.99" x2="693.70" y2="593.99" stroke="#FF2600" stroke-width="1.6" />
<polygon points="686.70,555.89 689.10,560.21 684.30,560.21" fill="#FF2600"/>
<polygon points="686.70,569.36 689.10,573.68 684.30,573.68" fill="#FF2600"/>
<polygon points="686.70,584.18 689.10,588.50 684.30,588.50" fill="#FF2600"/>
<polygon points="686.70,599.00 689.10,603.32 684.30,603.32" fill="#FF2600"/>
<polygon points="681.70,617.85 684.10,622.17 679.30,622.17" fill="#FF2600"/>
<polygon points="691.70,617.85 694.10,622.17 689.30,622.17" fill="#FF2600"/>
<line x1="701.10" y1="606.11" x2="715.50" y2="606.11" stroke="#00C800" stroke-width="1.6" />
<polygon points="706.00,588.98 708.40,584.66 703.60,584.66" fill="#00C800"/>
<polygon points="710.60,588.98 713.00,584.66 708.20,584.66" fill="#00C800"/>
<polygon points="710.30,599.75 712.70,595.44 707.90,595.44" fill="#00C800"/>
<polygon points="703.50,603.80 705.90,599.48 701.10,599.48" fill="#00C800"/>
<polygon points="708.30,603.80 710.70,599.48 705.90,599.48" fill="#00C800"/>
<polygon points="713.10,603.80 715.50,599.48 710.70,599.48" fill="#00C800"/>
<polygon points="708.30,613.23 710.70,608.91 705.90,608.91" fill="#00C800"/>
<polygon points="708.30,618.61 710.70,614.29 705.90,614.29" fill="#00C800"/>
<polygon points="703.50,637.47 705.90,633.15 701.10,633.15" fill="#00C800"/>
<polygon points="713.10,637.47 715.50,633.15 710.70,633.15" fill="#00C800"/>
<polygon points="710.10,641.51 712.50,637.19 707.70,637.19" fill="#00C800"/>
<polygon points="706.50,642.86 708.90,638.54 704.10,638.54" fill="#00C800"/>
</svg>
</body></html>
